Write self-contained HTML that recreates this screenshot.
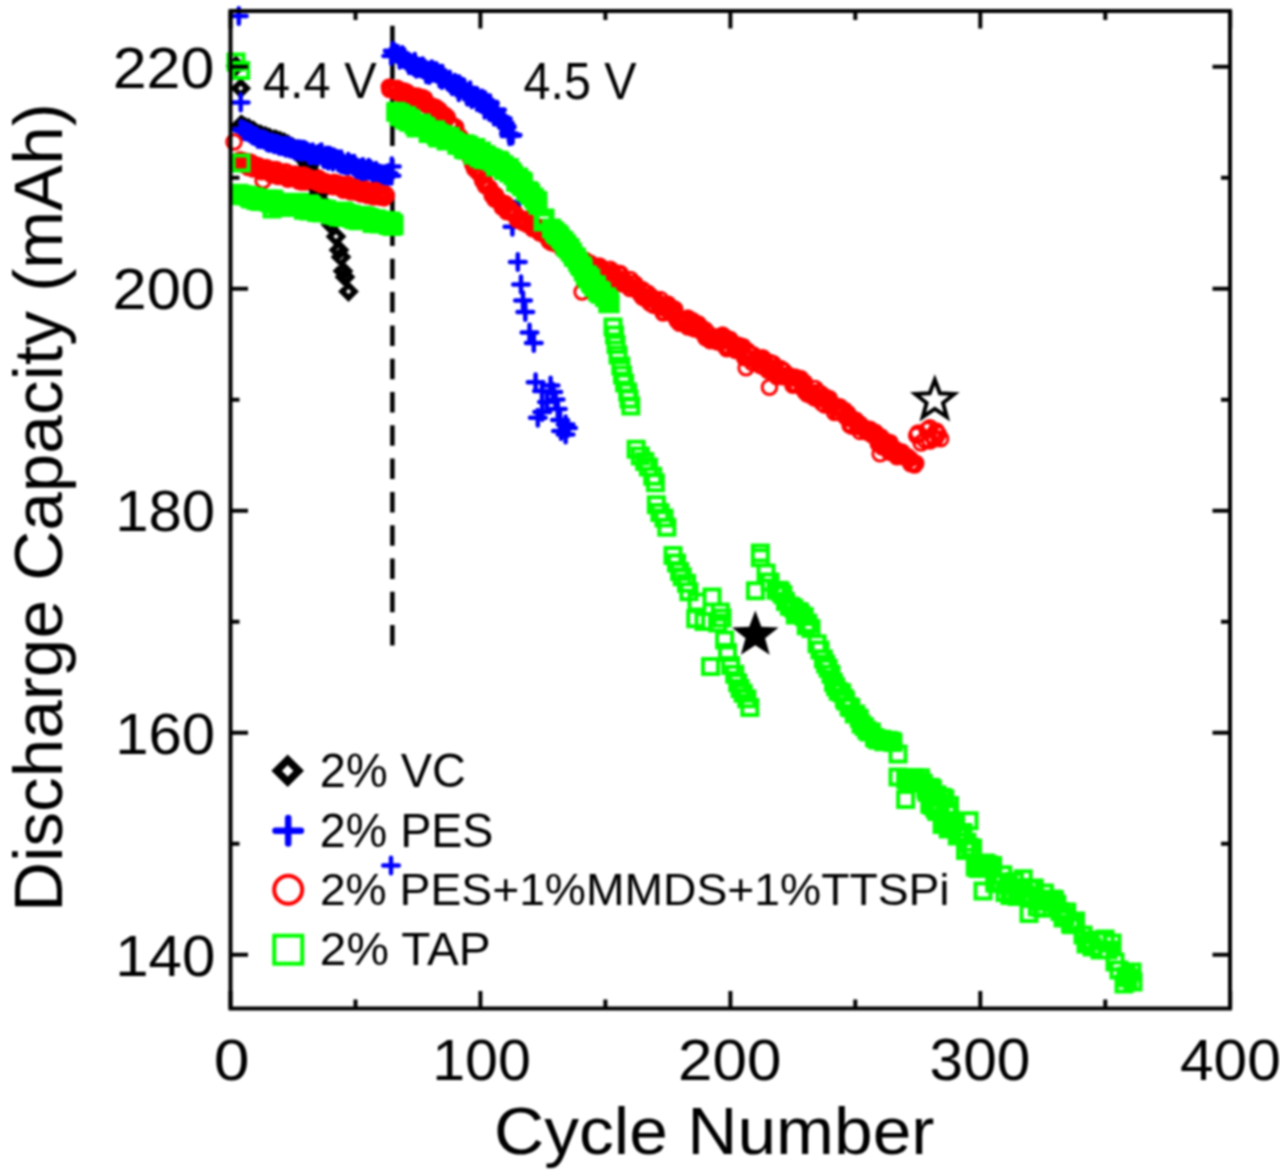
<!DOCTYPE html>
<html><head><meta charset="utf-8"><style>html,body{margin:0;padding:0;background:#fff;overflow:hidden}svg{display:block;filter:blur(1px)}</style></head>
<body><svg width="1280" height="1170" viewBox="0 0 1280 1170" font-family="Liberation Sans, sans-serif">
<rect width="1280" height="1170" fill="#fff"/>
<path d="M392.4,25.7V646" stroke="#000" stroke-width="4.5" stroke-dasharray="20.5 12.8" fill="none"/>
<path d="M236.0,59.5l6.5,6.5l-6.5,6.5l-6.5,-6.5zM240.7,81.8l6.5,6.5l-6.5,6.5l-6.5,-6.5zM240.9,118.6l6.5,6.5l-6.5,6.5l-6.5,-6.5zM241.7,118.4l6.5,6.5l-6.5,6.5l-6.5,-6.5zM243.5,120.0l6.5,6.5l-6.5,6.5l-6.5,-6.5zM243.0,119.9l6.5,6.5l-6.5,6.5l-6.5,-6.5zM246.2,121.8l6.5,6.5l-6.5,6.5l-6.5,-6.5zM245.4,120.8l6.5,6.5l-6.5,6.5l-6.5,-6.5zM247.8,123.1l6.5,6.5l-6.5,6.5l-6.5,-6.5zM248.8,121.6l6.5,6.5l-6.5,6.5l-6.5,-6.5zM251.8,124.8l6.5,6.5l-6.5,6.5l-6.5,-6.5zM251.2,124.1l6.5,6.5l-6.5,6.5l-6.5,-6.5zM253.0,124.2l6.5,6.5l-6.5,6.5l-6.5,-6.5zM253.5,124.3l6.5,6.5l-6.5,6.5l-6.5,-6.5zM255.5,126.0l6.5,6.5l-6.5,6.5l-6.5,-6.5zM255.2,126.4l6.5,6.5l-6.5,6.5l-6.5,-6.5zM258.4,128.2l6.5,6.5l-6.5,6.5l-6.5,-6.5zM258.5,127.8l6.5,6.5l-6.5,6.5l-6.5,-6.5zM261.0,128.9l6.5,6.5l-6.5,6.5l-6.5,-6.5zM260.9,128.1l6.5,6.5l-6.5,6.5l-6.5,-6.5zM264.3,130.6l6.5,6.5l-6.5,6.5l-6.5,-6.5zM264.0,130.0l6.5,6.5l-6.5,6.5l-6.5,-6.5zM265.7,130.1l6.5,6.5l-6.5,6.5l-6.5,-6.5zM265.7,129.8l6.5,6.5l-6.5,6.5l-6.5,-6.5zM268.9,131.5l6.5,6.5l-6.5,6.5l-6.5,-6.5zM269.1,131.4l6.5,6.5l-6.5,6.5l-6.5,-6.5zM271.7,133.1l6.5,6.5l-6.5,6.5l-6.5,-6.5zM270.2,131.8l6.5,6.5l-6.5,6.5l-6.5,-6.5zM274.2,133.1l6.5,6.5l-6.5,6.5l-6.5,-6.5zM274.3,133.0l6.5,6.5l-6.5,6.5l-6.5,-6.5zM275.3,134.2l6.5,6.5l-6.5,6.5l-6.5,-6.5zM276.4,133.5l6.5,6.5l-6.5,6.5l-6.5,-6.5zM277.8,134.4l6.5,6.5l-6.5,6.5l-6.5,-6.5zM279.2,135.2l6.5,6.5l-6.5,6.5l-6.5,-6.5zM280.4,135.0l6.5,6.5l-6.5,6.5l-6.5,-6.5zM280.4,134.6l6.5,6.5l-6.5,6.5l-6.5,-6.5zM284.0,135.8l6.5,6.5l-6.5,6.5l-6.5,-6.5zM283.6,136.4l6.5,6.5l-6.5,6.5l-6.5,-6.5zM285.5,137.9l6.5,6.5l-6.5,6.5l-6.5,-6.5zM285.4,137.7l6.5,6.5l-6.5,6.5l-6.5,-6.5zM287.9,138.3l6.5,6.5l-6.5,6.5l-6.5,-6.5zM288.0,138.0l6.5,6.5l-6.5,6.5l-6.5,-6.5zM291.8,140.4l6.5,6.5l-6.5,6.5l-6.5,-6.5zM290.7,140.5l6.5,6.5l-6.5,6.5l-6.5,-6.5zM293.0,141.4l6.5,6.5l-6.5,6.5l-6.5,-6.5zM294.1,141.9l6.5,6.5l-6.5,6.5l-6.5,-6.5zM295.4,144.5l6.5,6.5l-6.5,6.5l-6.5,-6.5zM295.5,143.0l6.5,6.5l-6.5,6.5l-6.5,-6.5zM298.9,145.0l6.5,6.5l-6.5,6.5l-6.5,-6.5zM298.2,144.5l6.5,6.5l-6.5,6.5l-6.5,-6.5zM300.3,147.9l6.5,6.5l-6.5,6.5l-6.5,-6.5zM300.6,147.9l6.5,6.5l-6.5,6.5l-6.5,-6.5zM303.3,150.6l6.5,6.5l-6.5,6.5l-6.5,-6.5zM304.2,150.7l6.5,6.5l-6.5,6.5l-6.5,-6.5zM306.1,155.0l6.5,6.5l-6.5,6.5l-6.5,-6.5zM305.5,153.6l6.5,6.5l-6.5,6.5l-6.5,-6.5zM309.2,159.4l6.5,6.5l-6.5,6.5l-6.5,-6.5zM308.1,158.2l6.5,6.5l-6.5,6.5l-6.5,-6.5zM311.4,165.4l6.5,6.5l-6.5,6.5l-6.5,-6.5zM310.5,165.4l6.5,6.5l-6.5,6.5l-6.5,-6.5zM314.1,172.2l6.5,6.5l-6.5,6.5l-6.5,-6.5zM313.4,171.2l6.5,6.5l-6.5,6.5l-6.5,-6.5zM315.3,180.6l6.5,6.5l-6.5,6.5l-6.5,-6.5zM315.6,180.1l6.5,6.5l-6.5,6.5l-6.5,-6.5zM318.1,188.3l6.5,6.5l-6.5,6.5l-6.5,-6.5zM318.7,187.3l6.5,6.5l-6.5,6.5l-6.5,-6.5zM320.5,195.3l6.5,6.5l-6.5,6.5l-6.5,-6.5zM320.3,194.3l6.5,6.5l-6.5,6.5l-6.5,-6.5zM323.6,201.4l6.5,6.5l-6.5,6.5l-6.5,-6.5zM323.7,200.2l6.5,6.5l-6.5,6.5l-6.5,-6.5zM326.7,205.9l6.5,6.5l-6.5,6.5l-6.5,-6.5zM325.2,206.0l6.5,6.5l-6.5,6.5l-6.5,-6.5zM328.4,211.0l6.5,6.5l-6.5,6.5l-6.5,-6.5zM328.0,211.7l6.5,6.5l-6.5,6.5l-6.5,-6.5zM331.1,216.6l6.5,6.5l-6.5,6.5l-6.5,-6.5zM330.8,218.1l6.5,6.5l-6.5,6.5l-6.5,-6.5zM336.0,230.0l6.5,6.5l-6.5,6.5l-6.5,-6.5zM339.0,243.5l6.5,6.5l-6.5,6.5l-6.5,-6.5zM341.0,250.5l6.5,6.5l-6.5,6.5l-6.5,-6.5zM343.0,264.5l6.5,6.5l-6.5,6.5l-6.5,-6.5zM345.0,270.5l6.5,6.5l-6.5,6.5l-6.5,-6.5zM348.5,285.0l6.5,6.5l-6.5,6.5l-6.5,-6.5z" fill="none" stroke="#000" stroke-width="5.5"/>
<path d="M231.0,16.0h15.6M238.8,8.2v15.6M232.9,102.4h15.6M240.7,94.6v15.6M383.2,865.5h15.6M391.0,857.7v15.6M232.7,129.3h15.6M240.5,121.5v15.6M233.4,129.0h15.6M241.2,121.2v15.6M235.2,130.8h15.6M243.0,123.0v15.6M236.2,130.4h15.6M244.0,122.6v15.6M238.2,131.2h15.6M246.0,123.4v15.6M237.4,131.4h15.6M245.2,123.6v15.6M240.8,132.2h15.6M248.6,124.4v15.6M241.2,132.5h15.6M249.0,124.7v15.6M242.8,133.5h15.6M250.6,125.7v15.6M244.0,134.8h15.6M251.8,127.0v15.6M246.3,135.9h15.6M254.1,128.1v15.6M245.0,135.3h15.6M252.8,127.5v15.6M248.2,136.2h15.6M256.0,128.4v15.6M248.9,136.7h15.6M256.7,128.9v15.6M250.1,138.7h15.6M257.9,130.9v15.6M250.1,138.9h15.6M257.9,131.1v15.6M253.1,139.2h15.6M260.9,131.4v15.6M252.9,139.1h15.6M260.7,131.3v15.6M255.2,139.2h15.6M263.0,131.4v15.6M256.3,139.6h15.6M264.1,131.8v15.6M258.6,140.6h15.6M266.4,132.8v15.6M259.0,142.0h15.6M266.8,134.2v15.6M261.1,142.7h15.6M268.9,134.9v15.6M260.8,142.6h15.6M268.6,134.8v15.6M262.6,142.8h15.6M270.4,135.0v15.6M263.7,142.2h15.6M271.5,134.4v15.6M266.4,144.3h15.6M274.2,136.5v15.6M265.6,143.2h15.6M273.4,135.4v15.6M268.1,143.9h15.6M275.9,136.1v15.6M269.0,143.9h15.6M276.8,136.1v15.6M269.9,144.0h15.6M277.7,136.2v15.6M271.0,145.8h15.6M278.8,138.0v15.6M273.2,145.5h15.6M281.0,137.7v15.6M273.3,146.0h15.6M281.1,138.2v15.6M275.3,146.3h15.6M283.1,138.5v15.6M275.8,146.3h15.6M283.6,138.5v15.6M277.7,145.8h15.6M285.5,138.0v15.6M278.0,147.7h15.6M285.8,139.9v15.6M280.5,147.4h15.6M288.3,139.6v15.6M280.4,146.0h15.6M288.2,138.2v15.6M282.5,148.8h15.6M290.3,141.0v15.6M283.6,147.4h15.6M291.4,139.6v15.6M286.0,149.1h15.6M293.8,141.3v15.6M286.3,150.0h15.6M294.1,142.2v15.6M288.1,151.0h15.6M295.9,143.2v15.6M288.9,149.6h15.6M296.7,141.8v15.6M291.3,150.0h15.6M299.1,142.2v15.6M290.5,149.1h15.6M298.3,141.3v15.6M293.8,149.5h15.6M301.6,141.7v15.6M292.5,151.9h15.6M300.3,144.1v15.6M296.1,151.5h15.6M303.9,143.7v15.6M296.2,149.8h15.6M304.0,142.0v15.6M297.8,151.3h15.6M305.6,143.5v15.6M298.1,150.8h15.6M305.9,143.0v15.6M300.0,152.0h15.6M307.8,144.2v15.6M301.3,154.9h15.6M309.1,147.1v15.6M303.6,153.1h15.6M311.4,145.3v15.6M302.8,155.4h15.6M310.6,147.6v15.6M305.7,154.9h15.6M313.5,147.1v15.6M304.9,152.2h15.6M312.7,144.4v15.6M308.7,155.8h15.6M316.5,148.0v15.6M308.8,154.8h15.6M316.6,147.0v15.6M310.6,155.2h15.6M318.4,147.4v15.6M311.3,153.6h15.6M319.1,145.8v15.6M313.3,154.0h15.6M321.1,146.2v15.6M313.6,152.4h15.6M321.4,144.6v15.6M316.0,158.9h15.6M323.8,151.1v15.6M314.9,156.7h15.6M322.7,148.9v15.6M318.4,159.1h15.6M326.2,151.3v15.6M318.3,155.5h15.6M326.1,147.7v15.6M320.5,160.6h15.6M328.3,152.8v15.6M321.3,155.6h15.6M329.1,147.8v15.6M322.6,156.2h15.6M330.4,148.4v15.6M322.4,158.3h15.6M330.2,150.5v15.6M325.1,161.7h15.6M332.9,153.9v15.6M325.9,157.3h15.6M333.7,149.5v15.6M328.3,159.3h15.6M336.1,151.5v15.6M328.2,158.7h15.6M336.0,150.9v15.6M330.2,159.3h15.6M338.0,151.5v15.6M330.5,162.4h15.6M338.3,154.6v15.6M333.3,159.3h15.6M341.1,151.5v15.6M333.5,164.2h15.6M341.3,156.4v15.6M336.1,164.6h15.6M343.9,156.8v15.6M334.9,162.6h15.6M342.7,154.8v15.6M337.5,165.3h15.6M345.3,157.5v15.6M337.7,164.9h15.6M345.5,157.1v15.6M340.3,165.7h15.6M348.1,157.9v15.6M340.4,161.8h15.6M348.2,154.0v15.6M343.0,164.2h15.6M350.8,156.4v15.6M343.8,164.1h15.6M351.6,156.3v15.6M345.7,166.5h15.6M353.5,158.7v15.6M346.4,163.8h15.6M354.2,156.0v15.6M348.4,167.0h15.6M356.2,159.2v15.6M348.6,169.8h15.6M356.4,162.0v15.6M350.4,169.0h15.6M358.2,161.2v15.6M350.7,168.2h15.6M358.5,160.4v15.6M352.5,170.6h15.6M360.3,162.8v15.6M354.0,167.8h15.6M361.8,160.0v15.6M355.4,172.5h15.6M363.2,164.7v15.6M355.1,167.0h15.6M362.9,159.2v15.6M357.5,172.2h15.6M365.3,164.4v15.6M358.6,169.9h15.6M366.4,162.1v15.6M360.9,167.8h15.6M368.7,160.0v15.6M360.9,170.5h15.6M368.7,162.7v15.6M363.2,170.8h15.6M371.0,163.0v15.6M363.0,169.6h15.6M370.8,161.8v15.6M365.0,171.7h15.6M372.8,163.9v15.6M365.3,173.6h15.6M373.1,165.8v15.6M368.7,174.4h15.6M376.5,166.6v15.6M368.1,170.8h15.6M375.9,163.0v15.6M370.5,173.3h15.6M378.3,165.5v15.6M370.9,176.9h15.6M378.7,169.1v15.6M372.5,173.8h15.6M380.3,166.0v15.6M373.2,175.7h15.6M381.0,167.9v15.6M376.3,175.7h15.6M384.1,167.9v15.6M375.9,175.5h15.6M383.7,167.7v15.6M378.5,175.8h15.6M386.3,168.0v15.6M378.5,174.3h15.6M386.3,166.5v15.6M380.3,175.9h15.6M388.1,168.1v15.6M380.5,173.0h15.6M388.3,165.2v15.6M383.7,175.8h15.6M391.5,168.0v15.6M384.0,166.4h15.6M391.8,158.6v15.6M384.9,50.8h15.6M392.7,43.0v15.6M383.4,56.0h15.6M391.2,48.2v15.6M386.2,51.9h15.6M394.0,44.1v15.6M386.9,53.3h15.6M394.7,45.5v15.6M389.8,53.8h15.6M397.6,46.0v15.6M389.9,54.4h15.6M397.7,46.6v15.6M391.9,59.6h15.6M399.7,51.8v15.6M392.0,59.5h15.6M399.8,51.7v15.6M394.5,55.0h15.6M402.3,47.2v15.6M394.8,58.6h15.6M402.6,50.8v15.6M396.4,57.1h15.6M404.2,49.3v15.6M397.3,59.8h15.6M405.1,52.0v15.6M399.9,62.4h15.6M407.7,54.6v15.6M399.9,61.0h15.6M407.7,53.2v15.6M402.0,62.6h15.6M409.8,54.8v15.6M401.3,65.1h15.6M409.1,57.3v15.6M403.9,65.1h15.6M411.7,57.3v15.6M404.9,64.1h15.6M412.7,56.3v15.6M406.1,66.7h15.6M413.9,58.9v15.6M407.0,61.9h15.6M414.8,54.1v15.6M408.5,65.7h15.6M416.3,57.9v15.6M408.5,68.8h15.6M416.3,61.0v15.6M411.7,66.9h15.6M419.5,59.1v15.6M411.6,68.0h15.6M419.4,60.2v15.6M414.9,66.4h15.6M422.7,58.6v15.6M414.0,68.6h15.6M421.8,60.8v15.6M416.4,69.9h15.6M424.2,62.1v15.6M416.8,68.6h15.6M424.6,60.8v15.6M419.5,70.5h15.6M427.3,62.7v15.6M418.5,74.2h15.6M426.3,66.4v15.6M421.5,70.9h15.6M429.3,63.1v15.6M421.5,74.9h15.6M429.3,67.1v15.6M424.9,72.7h15.6M432.7,64.9v15.6M424.0,69.4h15.6M431.8,61.6v15.6M427.3,71.1h15.6M435.1,63.3v15.6M426.8,72.6h15.6M434.6,64.8v15.6M428.9,73.8h15.6M436.7,66.0v15.6M428.7,71.2h15.6M436.5,63.4v15.6M431.8,78.5h15.6M439.6,70.7v15.6M431.9,73.7h15.6M439.7,65.9v15.6M434.5,73.7h15.6M442.3,65.9v15.6M434.1,79.9h15.6M441.9,72.1v15.6M437.4,78.1h15.6M445.2,70.3v15.6M437.3,78.4h15.6M445.1,70.6v15.6M439.2,80.3h15.6M447.0,72.5v15.6M440.0,81.5h15.6M447.8,73.7v15.6M441.7,82.6h15.6M449.5,74.8v15.6M441.9,79.6h15.6M449.7,71.8v15.6M444.7,85.1h15.6M452.5,77.3v15.6M444.4,86.1h15.6M452.2,78.3v15.6M445.9,84.3h15.6M453.7,76.5v15.6M446.9,82.9h15.6M454.7,75.1v15.6M448.7,87.7h15.6M456.5,79.9v15.6M449.1,84.0h15.6M456.9,76.2v15.6M451.0,92.1h15.6M458.8,84.3v15.6M451.5,84.4h15.6M459.3,76.6v15.6M453.7,87.4h15.6M461.5,79.6v15.6M454.8,86.7h15.6M462.6,78.9v15.6M456.3,87.6h15.6M464.1,79.8v15.6M456.7,88.7h15.6M464.5,80.9v15.6M459.0,95.6h15.6M466.8,87.8v15.6M459.9,96.6h15.6M467.7,88.8v15.6M461.0,93.8h15.6M468.8,86.0v15.6M462.3,90.3h15.6M470.1,82.5v15.6M463.7,96.6h15.6M471.5,88.8v15.6M464.0,99.2h15.6M471.8,91.4v15.6M467.0,98.0h15.6M474.8,90.2v15.6M466.3,95.6h15.6M474.1,87.8v15.6M468.8,95.7h15.6M476.6,87.9v15.6M469.5,96.6h15.6M477.3,88.8v15.6M472.3,103.1h15.6M480.1,95.3v15.6M471.0,101.7h15.6M478.8,93.9v15.6M474.4,98.7h15.6M482.2,90.9v15.6M474.2,98.6h15.6M482.0,90.8v15.6M477.1,100.0h15.6M484.9,92.2v15.6M476.9,109.8h15.6M484.7,102.0v15.6M479.8,103.9h15.6M487.6,96.1v15.6M479.3,102.9h15.6M487.1,95.1v15.6M481.4,111.8h15.6M489.2,104.0v15.6M482.2,103.2h15.6M490.0,95.4v15.6M484.0,111.2h15.6M491.8,103.4v15.6M483.7,112.8h15.6M491.5,105.0v15.6M487.3,111.9h15.6M495.1,104.1v15.6M486.5,114.9h15.6M494.3,107.1v15.6M489.2,109.9h15.6M497.0,102.1v15.6M488.8,109.6h15.6M496.6,101.8v15.6M492.2,117.1h15.6M500.0,109.3v15.6M492.0,120.0h15.6M499.8,112.2v15.6M495.0,118.5h15.6M502.8,110.7v15.6M494.0,124.2h15.6M501.8,116.4v15.6M497.1,124.2h15.6M504.9,116.4v15.6M496.9,122.8h15.6M504.7,115.0v15.6M498.7,126.0h15.6M506.5,118.2v15.6M499.0,127.3h15.6M506.8,119.5v15.6M501.7,136.1h15.6M509.5,128.3v15.6M501.1,133.5h15.6M508.9,125.7v15.6M504.8,135.0h15.6M512.6,127.2v15.6M504.2,135.8h15.6M512.0,128.0v15.6M508.2,180.0h15.6M516.0,172.2v15.6M511.2,202.0h15.6M519.0,194.2v15.6M504.6,226.7h15.6M512.4,218.9v15.6M510.0,262.0h15.6M517.8,254.2v15.6M513.2,284.4h15.6M521.0,276.6v15.6M515.2,300.4h15.6M523.0,292.6v15.6M517.5,312.0h15.6M525.3,304.2v15.6M521.7,332.5h15.6M529.5,324.7v15.6M526.0,343.0h15.6M533.8,335.2v15.6M527.8,382.2h15.6M535.6,374.4v15.6M542.8,385.6h15.6M550.6,377.8v15.6M534.2,391.0h15.6M542.0,383.2v15.6M545.5,392.0h15.6M553.3,384.2v15.6M547.8,399.4h15.6M555.6,391.6v15.6M550.0,409.0h15.6M557.8,401.2v15.6M534.4,412.0h15.6M542.2,404.2v15.6M530.0,417.8h15.6M537.8,410.0v15.6M552.2,420.0h15.6M560.0,412.2v15.6M557.8,424.4h15.6M565.6,416.6v15.6M557.8,434.4h15.6M565.6,426.6v15.6M553.2,431.0h15.6M561.0,423.2v15.6M560.2,428.0h15.6M568.0,420.2v15.6M539.2,402.0h15.6M547.0,394.2v15.6" fill="none" stroke="#00f" stroke-width="4.5" stroke-linecap="round"/>
<path d="M226.8,142.0a7.25,7.25 0 1,0 14.5,0a7.25,7.25 0 1,0 -14.5,0M255.8,180.5a7.25,7.25 0 1,0 14.5,0a7.25,7.25 0 1,0 -14.5,0M233.0,159.7a7.25,7.25 0 1,0 14.5,0a7.25,7.25 0 1,0 -14.5,0M233.6,163.1a7.25,7.25 0 1,0 14.5,0a7.25,7.25 0 1,0 -14.5,0M235.7,160.4a7.25,7.25 0 1,0 14.5,0a7.25,7.25 0 1,0 -14.5,0M235.8,164.4a7.25,7.25 0 1,0 14.5,0a7.25,7.25 0 1,0 -14.5,0M238.2,165.1a7.25,7.25 0 1,0 14.5,0a7.25,7.25 0 1,0 -14.5,0M239.0,161.3a7.25,7.25 0 1,0 14.5,0a7.25,7.25 0 1,0 -14.5,0M241.3,164.0a7.25,7.25 0 1,0 14.5,0a7.25,7.25 0 1,0 -14.5,0M241.1,167.6a7.25,7.25 0 1,0 14.5,0a7.25,7.25 0 1,0 -14.5,0M243.1,161.9a7.25,7.25 0 1,0 14.5,0a7.25,7.25 0 1,0 -14.5,0M244.5,164.5a7.25,7.25 0 1,0 14.5,0a7.25,7.25 0 1,0 -14.5,0M245.8,164.8a7.25,7.25 0 1,0 14.5,0a7.25,7.25 0 1,0 -14.5,0M246.0,169.0a7.25,7.25 0 1,0 14.5,0a7.25,7.25 0 1,0 -14.5,0M248.3,164.7a7.25,7.25 0 1,0 14.5,0a7.25,7.25 0 1,0 -14.5,0M248.9,167.0a7.25,7.25 0 1,0 14.5,0a7.25,7.25 0 1,0 -14.5,0M252.0,169.9a7.25,7.25 0 1,0 14.5,0a7.25,7.25 0 1,0 -14.5,0M251.0,165.4a7.25,7.25 0 1,0 14.5,0a7.25,7.25 0 1,0 -14.5,0M254.3,171.8a7.25,7.25 0 1,0 14.5,0a7.25,7.25 0 1,0 -14.5,0M253.0,170.0a7.25,7.25 0 1,0 14.5,0a7.25,7.25 0 1,0 -14.5,0M256.8,170.2a7.25,7.25 0 1,0 14.5,0a7.25,7.25 0 1,0 -14.5,0M255.8,171.2a7.25,7.25 0 1,0 14.5,0a7.25,7.25 0 1,0 -14.5,0M259.1,167.5a7.25,7.25 0 1,0 14.5,0a7.25,7.25 0 1,0 -14.5,0M259.0,167.7a7.25,7.25 0 1,0 14.5,0a7.25,7.25 0 1,0 -14.5,0M260.5,169.3a7.25,7.25 0 1,0 14.5,0a7.25,7.25 0 1,0 -14.5,0M261.0,169.8a7.25,7.25 0 1,0 14.5,0a7.25,7.25 0 1,0 -14.5,0M264.0,174.0a7.25,7.25 0 1,0 14.5,0a7.25,7.25 0 1,0 -14.5,0M264.5,175.1a7.25,7.25 0 1,0 14.5,0a7.25,7.25 0 1,0 -14.5,0M267.0,174.4a7.25,7.25 0 1,0 14.5,0a7.25,7.25 0 1,0 -14.5,0M265.9,169.5a7.25,7.25 0 1,0 14.5,0a7.25,7.25 0 1,0 -14.5,0M268.9,173.0a7.25,7.25 0 1,0 14.5,0a7.25,7.25 0 1,0 -14.5,0M269.0,169.4a7.25,7.25 0 1,0 14.5,0a7.25,7.25 0 1,0 -14.5,0M270.8,176.6a7.25,7.25 0 1,0 14.5,0a7.25,7.25 0 1,0 -14.5,0M271.4,174.8a7.25,7.25 0 1,0 14.5,0a7.25,7.25 0 1,0 -14.5,0M273.1,172.9a7.25,7.25 0 1,0 14.5,0a7.25,7.25 0 1,0 -14.5,0M274.4,174.9a7.25,7.25 0 1,0 14.5,0a7.25,7.25 0 1,0 -14.5,0M277.0,171.9a7.25,7.25 0 1,0 14.5,0a7.25,7.25 0 1,0 -14.5,0M276.2,176.7a7.25,7.25 0 1,0 14.5,0a7.25,7.25 0 1,0 -14.5,0M278.7,177.2a7.25,7.25 0 1,0 14.5,0a7.25,7.25 0 1,0 -14.5,0M278.8,171.8a7.25,7.25 0 1,0 14.5,0a7.25,7.25 0 1,0 -14.5,0M280.6,179.3a7.25,7.25 0 1,0 14.5,0a7.25,7.25 0 1,0 -14.5,0M280.6,172.9a7.25,7.25 0 1,0 14.5,0a7.25,7.25 0 1,0 -14.5,0M283.5,177.6a7.25,7.25 0 1,0 14.5,0a7.25,7.25 0 1,0 -14.5,0M284.3,175.7a7.25,7.25 0 1,0 14.5,0a7.25,7.25 0 1,0 -14.5,0M286.2,178.8a7.25,7.25 0 1,0 14.5,0a7.25,7.25 0 1,0 -14.5,0M285.9,175.5a7.25,7.25 0 1,0 14.5,0a7.25,7.25 0 1,0 -14.5,0M288.9,178.1a7.25,7.25 0 1,0 14.5,0a7.25,7.25 0 1,0 -14.5,0M288.0,173.9a7.25,7.25 0 1,0 14.5,0a7.25,7.25 0 1,0 -14.5,0M290.7,179.4a7.25,7.25 0 1,0 14.5,0a7.25,7.25 0 1,0 -14.5,0M291.6,181.4a7.25,7.25 0 1,0 14.5,0a7.25,7.25 0 1,0 -14.5,0M294.2,176.2a7.25,7.25 0 1,0 14.5,0a7.25,7.25 0 1,0 -14.5,0M294.2,182.0a7.25,7.25 0 1,0 14.5,0a7.25,7.25 0 1,0 -14.5,0M296.0,174.8a7.25,7.25 0 1,0 14.5,0a7.25,7.25 0 1,0 -14.5,0M296.1,176.9a7.25,7.25 0 1,0 14.5,0a7.25,7.25 0 1,0 -14.5,0M298.2,175.5a7.25,7.25 0 1,0 14.5,0a7.25,7.25 0 1,0 -14.5,0M298.1,182.1a7.25,7.25 0 1,0 14.5,0a7.25,7.25 0 1,0 -14.5,0M300.5,180.4a7.25,7.25 0 1,0 14.5,0a7.25,7.25 0 1,0 -14.5,0M300.8,177.0a7.25,7.25 0 1,0 14.5,0a7.25,7.25 0 1,0 -14.5,0M304.3,178.2a7.25,7.25 0 1,0 14.5,0a7.25,7.25 0 1,0 -14.5,0M303.2,179.4a7.25,7.25 0 1,0 14.5,0a7.25,7.25 0 1,0 -14.5,0M306.6,180.3a7.25,7.25 0 1,0 14.5,0a7.25,7.25 0 1,0 -14.5,0M306.8,179.3a7.25,7.25 0 1,0 14.5,0a7.25,7.25 0 1,0 -14.5,0M308.8,182.2a7.25,7.25 0 1,0 14.5,0a7.25,7.25 0 1,0 -14.5,0M308.7,182.2a7.25,7.25 0 1,0 14.5,0a7.25,7.25 0 1,0 -14.5,0M311.2,177.9a7.25,7.25 0 1,0 14.5,0a7.25,7.25 0 1,0 -14.5,0M310.6,183.1a7.25,7.25 0 1,0 14.5,0a7.25,7.25 0 1,0 -14.5,0M314.1,184.8a7.25,7.25 0 1,0 14.5,0a7.25,7.25 0 1,0 -14.5,0M314.1,181.9a7.25,7.25 0 1,0 14.5,0a7.25,7.25 0 1,0 -14.5,0M315.7,184.7a7.25,7.25 0 1,0 14.5,0a7.25,7.25 0 1,0 -14.5,0M315.6,181.2a7.25,7.25 0 1,0 14.5,0a7.25,7.25 0 1,0 -14.5,0M318.2,181.5a7.25,7.25 0 1,0 14.5,0a7.25,7.25 0 1,0 -14.5,0M318.4,181.9a7.25,7.25 0 1,0 14.5,0a7.25,7.25 0 1,0 -14.5,0M321.6,183.4a7.25,7.25 0 1,0 14.5,0a7.25,7.25 0 1,0 -14.5,0M320.8,185.3a7.25,7.25 0 1,0 14.5,0a7.25,7.25 0 1,0 -14.5,0M324.1,186.3a7.25,7.25 0 1,0 14.5,0a7.25,7.25 0 1,0 -14.5,0M323.0,184.6a7.25,7.25 0 1,0 14.5,0a7.25,7.25 0 1,0 -14.5,0M326.9,182.3a7.25,7.25 0 1,0 14.5,0a7.25,7.25 0 1,0 -14.5,0M325.8,186.8a7.25,7.25 0 1,0 14.5,0a7.25,7.25 0 1,0 -14.5,0M328.5,184.1a7.25,7.25 0 1,0 14.5,0a7.25,7.25 0 1,0 -14.5,0M329.3,183.9a7.25,7.25 0 1,0 14.5,0a7.25,7.25 0 1,0 -14.5,0M330.8,183.2a7.25,7.25 0 1,0 14.5,0a7.25,7.25 0 1,0 -14.5,0M331.0,187.1a7.25,7.25 0 1,0 14.5,0a7.25,7.25 0 1,0 -14.5,0M333.5,188.2a7.25,7.25 0 1,0 14.5,0a7.25,7.25 0 1,0 -14.5,0M333.1,184.1a7.25,7.25 0 1,0 14.5,0a7.25,7.25 0 1,0 -14.5,0M336.4,186.5a7.25,7.25 0 1,0 14.5,0a7.25,7.25 0 1,0 -14.5,0M336.2,190.2a7.25,7.25 0 1,0 14.5,0a7.25,7.25 0 1,0 -14.5,0M338.4,184.7a7.25,7.25 0 1,0 14.5,0a7.25,7.25 0 1,0 -14.5,0M338.0,187.2a7.25,7.25 0 1,0 14.5,0a7.25,7.25 0 1,0 -14.5,0M340.9,187.7a7.25,7.25 0 1,0 14.5,0a7.25,7.25 0 1,0 -14.5,0M340.5,183.9a7.25,7.25 0 1,0 14.5,0a7.25,7.25 0 1,0 -14.5,0M343.6,190.6a7.25,7.25 0 1,0 14.5,0a7.25,7.25 0 1,0 -14.5,0M343.4,191.8a7.25,7.25 0 1,0 14.5,0a7.25,7.25 0 1,0 -14.5,0M346.4,188.2a7.25,7.25 0 1,0 14.5,0a7.25,7.25 0 1,0 -14.5,0M346.7,186.9a7.25,7.25 0 1,0 14.5,0a7.25,7.25 0 1,0 -14.5,0M348.9,192.2a7.25,7.25 0 1,0 14.5,0a7.25,7.25 0 1,0 -14.5,0M348.8,188.0a7.25,7.25 0 1,0 14.5,0a7.25,7.25 0 1,0 -14.5,0M350.6,190.6a7.25,7.25 0 1,0 14.5,0a7.25,7.25 0 1,0 -14.5,0M350.8,188.9a7.25,7.25 0 1,0 14.5,0a7.25,7.25 0 1,0 -14.5,0M353.8,194.0a7.25,7.25 0 1,0 14.5,0a7.25,7.25 0 1,0 -14.5,0M354.0,190.6a7.25,7.25 0 1,0 14.5,0a7.25,7.25 0 1,0 -14.5,0M356.8,189.4a7.25,7.25 0 1,0 14.5,0a7.25,7.25 0 1,0 -14.5,0M356.1,192.4a7.25,7.25 0 1,0 14.5,0a7.25,7.25 0 1,0 -14.5,0M358.8,189.2a7.25,7.25 0 1,0 14.5,0a7.25,7.25 0 1,0 -14.5,0M358.6,194.0a7.25,7.25 0 1,0 14.5,0a7.25,7.25 0 1,0 -14.5,0M360.8,193.6a7.25,7.25 0 1,0 14.5,0a7.25,7.25 0 1,0 -14.5,0M360.5,195.5a7.25,7.25 0 1,0 14.5,0a7.25,7.25 0 1,0 -14.5,0M364.0,191.0a7.25,7.25 0 1,0 14.5,0a7.25,7.25 0 1,0 -14.5,0M364.5,194.8a7.25,7.25 0 1,0 14.5,0a7.25,7.25 0 1,0 -14.5,0M365.5,191.2a7.25,7.25 0 1,0 14.5,0a7.25,7.25 0 1,0 -14.5,0M366.2,196.9a7.25,7.25 0 1,0 14.5,0a7.25,7.25 0 1,0 -14.5,0M368.2,190.4a7.25,7.25 0 1,0 14.5,0a7.25,7.25 0 1,0 -14.5,0M368.5,190.4a7.25,7.25 0 1,0 14.5,0a7.25,7.25 0 1,0 -14.5,0M371.1,194.7a7.25,7.25 0 1,0 14.5,0a7.25,7.25 0 1,0 -14.5,0M371.2,191.9a7.25,7.25 0 1,0 14.5,0a7.25,7.25 0 1,0 -14.5,0M373.0,197.2a7.25,7.25 0 1,0 14.5,0a7.25,7.25 0 1,0 -14.5,0M373.7,195.0a7.25,7.25 0 1,0 14.5,0a7.25,7.25 0 1,0 -14.5,0M376.2,197.0a7.25,7.25 0 1,0 14.5,0a7.25,7.25 0 1,0 -14.5,0M376.9,197.9a7.25,7.25 0 1,0 14.5,0a7.25,7.25 0 1,0 -14.5,0M379.1,195.5a7.25,7.25 0 1,0 14.5,0a7.25,7.25 0 1,0 -14.5,0M378.2,194.0a7.25,7.25 0 1,0 14.5,0a7.25,7.25 0 1,0 -14.5,0M382.1,86.9a7.25,7.25 0 1,0 14.5,0a7.25,7.25 0 1,0 -14.5,0M382.4,89.6a7.25,7.25 0 1,0 14.5,0a7.25,7.25 0 1,0 -14.5,0M385.2,90.0a7.25,7.25 0 1,0 14.5,0a7.25,7.25 0 1,0 -14.5,0M384.6,89.0a7.25,7.25 0 1,0 14.5,0a7.25,7.25 0 1,0 -14.5,0M388.3,90.1a7.25,7.25 0 1,0 14.5,0a7.25,7.25 0 1,0 -14.5,0M388.5,91.9a7.25,7.25 0 1,0 14.5,0a7.25,7.25 0 1,0 -14.5,0M390.0,88.3a7.25,7.25 0 1,0 14.5,0a7.25,7.25 0 1,0 -14.5,0M390.7,88.9a7.25,7.25 0 1,0 14.5,0a7.25,7.25 0 1,0 -14.5,0M392.0,93.4a7.25,7.25 0 1,0 14.5,0a7.25,7.25 0 1,0 -14.5,0M393.3,94.0a7.25,7.25 0 1,0 14.5,0a7.25,7.25 0 1,0 -14.5,0M396.0,91.1a7.25,7.25 0 1,0 14.5,0a7.25,7.25 0 1,0 -14.5,0M394.6,90.7a7.25,7.25 0 1,0 14.5,0a7.25,7.25 0 1,0 -14.5,0M398.5,91.5a7.25,7.25 0 1,0 14.5,0a7.25,7.25 0 1,0 -14.5,0M397.2,91.0a7.25,7.25 0 1,0 14.5,0a7.25,7.25 0 1,0 -14.5,0M399.5,92.0a7.25,7.25 0 1,0 14.5,0a7.25,7.25 0 1,0 -14.5,0M400.0,92.8a7.25,7.25 0 1,0 14.5,0a7.25,7.25 0 1,0 -14.5,0M402.4,98.3a7.25,7.25 0 1,0 14.5,0a7.25,7.25 0 1,0 -14.5,0M402.2,97.6a7.25,7.25 0 1,0 14.5,0a7.25,7.25 0 1,0 -14.5,0M405.6,97.0a7.25,7.25 0 1,0 14.5,0a7.25,7.25 0 1,0 -14.5,0M405.4,98.3a7.25,7.25 0 1,0 14.5,0a7.25,7.25 0 1,0 -14.5,0M407.9,95.9a7.25,7.25 0 1,0 14.5,0a7.25,7.25 0 1,0 -14.5,0M407.5,96.0a7.25,7.25 0 1,0 14.5,0a7.25,7.25 0 1,0 -14.5,0M410.1,101.4a7.25,7.25 0 1,0 14.5,0a7.25,7.25 0 1,0 -14.5,0M410.1,95.9a7.25,7.25 0 1,0 14.5,0a7.25,7.25 0 1,0 -14.5,0M412.7,101.3a7.25,7.25 0 1,0 14.5,0a7.25,7.25 0 1,0 -14.5,0M412.7,100.6a7.25,7.25 0 1,0 14.5,0a7.25,7.25 0 1,0 -14.5,0M414.6,97.7a7.25,7.25 0 1,0 14.5,0a7.25,7.25 0 1,0 -14.5,0M415.5,97.6a7.25,7.25 0 1,0 14.5,0a7.25,7.25 0 1,0 -14.5,0M417.4,100.6a7.25,7.25 0 1,0 14.5,0a7.25,7.25 0 1,0 -14.5,0M417.3,98.5a7.25,7.25 0 1,0 14.5,0a7.25,7.25 0 1,0 -14.5,0M419.5,105.1a7.25,7.25 0 1,0 14.5,0a7.25,7.25 0 1,0 -14.5,0M420.6,105.1a7.25,7.25 0 1,0 14.5,0a7.25,7.25 0 1,0 -14.5,0M422.7,107.3a7.25,7.25 0 1,0 14.5,0a7.25,7.25 0 1,0 -14.5,0M423.3,105.3a7.25,7.25 0 1,0 14.5,0a7.25,7.25 0 1,0 -14.5,0M425.3,106.8a7.25,7.25 0 1,0 14.5,0a7.25,7.25 0 1,0 -14.5,0M424.8,106.0a7.25,7.25 0 1,0 14.5,0a7.25,7.25 0 1,0 -14.5,0M428.1,107.0a7.25,7.25 0 1,0 14.5,0a7.25,7.25 0 1,0 -14.5,0M428.3,108.9a7.25,7.25 0 1,0 14.5,0a7.25,7.25 0 1,0 -14.5,0M430.4,112.9a7.25,7.25 0 1,0 14.5,0a7.25,7.25 0 1,0 -14.5,0M430.5,108.8a7.25,7.25 0 1,0 14.5,0a7.25,7.25 0 1,0 -14.5,0M432.3,110.1a7.25,7.25 0 1,0 14.5,0a7.25,7.25 0 1,0 -14.5,0M432.0,115.9a7.25,7.25 0 1,0 14.5,0a7.25,7.25 0 1,0 -14.5,0M435.4,118.1a7.25,7.25 0 1,0 14.5,0a7.25,7.25 0 1,0 -14.5,0M435.7,114.2a7.25,7.25 0 1,0 14.5,0a7.25,7.25 0 1,0 -14.5,0M438.5,120.0a7.25,7.25 0 1,0 14.5,0a7.25,7.25 0 1,0 -14.5,0M437.7,114.9a7.25,7.25 0 1,0 14.5,0a7.25,7.25 0 1,0 -14.5,0M440.0,117.6a7.25,7.25 0 1,0 14.5,0a7.25,7.25 0 1,0 -14.5,0M440.0,117.1a7.25,7.25 0 1,0 14.5,0a7.25,7.25 0 1,0 -14.5,0M443.1,125.7a7.25,7.25 0 1,0 14.5,0a7.25,7.25 0 1,0 -14.5,0M442.3,124.5a7.25,7.25 0 1,0 14.5,0a7.25,7.25 0 1,0 -14.5,0M445.4,126.2a7.25,7.25 0 1,0 14.5,0a7.25,7.25 0 1,0 -14.5,0M445.9,125.6a7.25,7.25 0 1,0 14.5,0a7.25,7.25 0 1,0 -14.5,0M448.3,127.0a7.25,7.25 0 1,0 14.5,0a7.25,7.25 0 1,0 -14.5,0M448.5,127.9a7.25,7.25 0 1,0 14.5,0a7.25,7.25 0 1,0 -14.5,0M449.5,135.6a7.25,7.25 0 1,0 14.5,0a7.25,7.25 0 1,0 -14.5,0M450.6,134.3a7.25,7.25 0 1,0 14.5,0a7.25,7.25 0 1,0 -14.5,0M453.2,137.3a7.25,7.25 0 1,0 14.5,0a7.25,7.25 0 1,0 -14.5,0M452.1,136.9a7.25,7.25 0 1,0 14.5,0a7.25,7.25 0 1,0 -14.5,0M456.0,145.9a7.25,7.25 0 1,0 14.5,0a7.25,7.25 0 1,0 -14.5,0M454.8,142.7a7.25,7.25 0 1,0 14.5,0a7.25,7.25 0 1,0 -14.5,0M457.7,150.4a7.25,7.25 0 1,0 14.5,0a7.25,7.25 0 1,0 -14.5,0M457.0,150.0a7.25,7.25 0 1,0 14.5,0a7.25,7.25 0 1,0 -14.5,0M459.9,152.7a7.25,7.25 0 1,0 14.5,0a7.25,7.25 0 1,0 -14.5,0M459.7,149.9a7.25,7.25 0 1,0 14.5,0a7.25,7.25 0 1,0 -14.5,0M463.4,156.9a7.25,7.25 0 1,0 14.5,0a7.25,7.25 0 1,0 -14.5,0M463.5,159.1a7.25,7.25 0 1,0 14.5,0a7.25,7.25 0 1,0 -14.5,0M465.7,158.8a7.25,7.25 0 1,0 14.5,0a7.25,7.25 0 1,0 -14.5,0M465.4,164.3a7.25,7.25 0 1,0 14.5,0a7.25,7.25 0 1,0 -14.5,0M467.8,163.2a7.25,7.25 0 1,0 14.5,0a7.25,7.25 0 1,0 -14.5,0M467.2,168.7a7.25,7.25 0 1,0 14.5,0a7.25,7.25 0 1,0 -14.5,0M471.0,168.8a7.25,7.25 0 1,0 14.5,0a7.25,7.25 0 1,0 -14.5,0M470.0,171.6a7.25,7.25 0 1,0 14.5,0a7.25,7.25 0 1,0 -14.5,0M472.8,172.9a7.25,7.25 0 1,0 14.5,0a7.25,7.25 0 1,0 -14.5,0M473.5,175.5a7.25,7.25 0 1,0 14.5,0a7.25,7.25 0 1,0 -14.5,0M475.0,176.4a7.25,7.25 0 1,0 14.5,0a7.25,7.25 0 1,0 -14.5,0M475.3,180.8a7.25,7.25 0 1,0 14.5,0a7.25,7.25 0 1,0 -14.5,0M477.2,180.8a7.25,7.25 0 1,0 14.5,0a7.25,7.25 0 1,0 -14.5,0M478.1,185.8a7.25,7.25 0 1,0 14.5,0a7.25,7.25 0 1,0 -14.5,0M480.1,186.4a7.25,7.25 0 1,0 14.5,0a7.25,7.25 0 1,0 -14.5,0M480.5,186.7a7.25,7.25 0 1,0 14.5,0a7.25,7.25 0 1,0 -14.5,0M482.2,188.5a7.25,7.25 0 1,0 14.5,0a7.25,7.25 0 1,0 -14.5,0M482.3,188.0a7.25,7.25 0 1,0 14.5,0a7.25,7.25 0 1,0 -14.5,0M484.6,192.5a7.25,7.25 0 1,0 14.5,0a7.25,7.25 0 1,0 -14.5,0M484.8,195.2a7.25,7.25 0 1,0 14.5,0a7.25,7.25 0 1,0 -14.5,0M487.5,199.2a7.25,7.25 0 1,0 14.5,0a7.25,7.25 0 1,0 -14.5,0M488.2,195.0a7.25,7.25 0 1,0 14.5,0a7.25,7.25 0 1,0 -14.5,0M489.7,199.9a7.25,7.25 0 1,0 14.5,0a7.25,7.25 0 1,0 -14.5,0M490.2,199.7a7.25,7.25 0 1,0 14.5,0a7.25,7.25 0 1,0 -14.5,0M492.1,202.0a7.25,7.25 0 1,0 14.5,0a7.25,7.25 0 1,0 -14.5,0M493.2,201.5a7.25,7.25 0 1,0 14.5,0a7.25,7.25 0 1,0 -14.5,0M494.9,206.7a7.25,7.25 0 1,0 14.5,0a7.25,7.25 0 1,0 -14.5,0M494.9,207.2a7.25,7.25 0 1,0 14.5,0a7.25,7.25 0 1,0 -14.5,0M498.1,203.6a7.25,7.25 0 1,0 14.5,0a7.25,7.25 0 1,0 -14.5,0M497.7,204.5a7.25,7.25 0 1,0 14.5,0a7.25,7.25 0 1,0 -14.5,0M500.7,208.5a7.25,7.25 0 1,0 14.5,0a7.25,7.25 0 1,0 -14.5,0M499.6,211.7a7.25,7.25 0 1,0 14.5,0a7.25,7.25 0 1,0 -14.5,0M503.2,212.0a7.25,7.25 0 1,0 14.5,0a7.25,7.25 0 1,0 -14.5,0M502.9,208.8a7.25,7.25 0 1,0 14.5,0a7.25,7.25 0 1,0 -14.5,0M506.0,212.5a7.25,7.25 0 1,0 14.5,0a7.25,7.25 0 1,0 -14.5,0M505.3,213.6a7.25,7.25 0 1,0 14.5,0a7.25,7.25 0 1,0 -14.5,0M507.7,213.2a7.25,7.25 0 1,0 14.5,0a7.25,7.25 0 1,0 -14.5,0M508.4,216.0a7.25,7.25 0 1,0 14.5,0a7.25,7.25 0 1,0 -14.5,0M510.1,220.0a7.25,7.25 0 1,0 14.5,0a7.25,7.25 0 1,0 -14.5,0M510.8,219.2a7.25,7.25 0 1,0 14.5,0a7.25,7.25 0 1,0 -14.5,0M513.4,218.4a7.25,7.25 0 1,0 14.5,0a7.25,7.25 0 1,0 -14.5,0M512.1,218.4a7.25,7.25 0 1,0 14.5,0a7.25,7.25 0 1,0 -14.5,0M515.4,222.4a7.25,7.25 0 1,0 14.5,0a7.25,7.25 0 1,0 -14.5,0M515.6,221.5a7.25,7.25 0 1,0 14.5,0a7.25,7.25 0 1,0 -14.5,0M517.9,223.1a7.25,7.25 0 1,0 14.5,0a7.25,7.25 0 1,0 -14.5,0M517.9,219.2a7.25,7.25 0 1,0 14.5,0a7.25,7.25 0 1,0 -14.5,0M520.3,222.2a7.25,7.25 0 1,0 14.5,0a7.25,7.25 0 1,0 -14.5,0M519.6,224.2a7.25,7.25 0 1,0 14.5,0a7.25,7.25 0 1,0 -14.5,0M523.3,223.7a7.25,7.25 0 1,0 14.5,0a7.25,7.25 0 1,0 -14.5,0M523.0,225.8a7.25,7.25 0 1,0 14.5,0a7.25,7.25 0 1,0 -14.5,0M525.5,228.7a7.25,7.25 0 1,0 14.5,0a7.25,7.25 0 1,0 -14.5,0M525.6,223.9a7.25,7.25 0 1,0 14.5,0a7.25,7.25 0 1,0 -14.5,0M527.9,226.9a7.25,7.25 0 1,0 14.5,0a7.25,7.25 0 1,0 -14.5,0M527.6,228.9a7.25,7.25 0 1,0 14.5,0a7.25,7.25 0 1,0 -14.5,0M529.7,230.2a7.25,7.25 0 1,0 14.5,0a7.25,7.25 0 1,0 -14.5,0M531.0,226.9a7.25,7.25 0 1,0 14.5,0a7.25,7.25 0 1,0 -14.5,0M533.3,232.6a7.25,7.25 0 1,0 14.5,0a7.25,7.25 0 1,0 -14.5,0M532.6,233.0a7.25,7.25 0 1,0 14.5,0a7.25,7.25 0 1,0 -14.5,0M534.6,231.3a7.25,7.25 0 1,0 14.5,0a7.25,7.25 0 1,0 -14.5,0M536.0,234.1a7.25,7.25 0 1,0 14.5,0a7.25,7.25 0 1,0 -14.5,0M537.2,233.1a7.25,7.25 0 1,0 14.5,0a7.25,7.25 0 1,0 -14.5,0M537.7,235.6a7.25,7.25 0 1,0 14.5,0a7.25,7.25 0 1,0 -14.5,0M541.0,235.4a7.25,7.25 0 1,0 14.5,0a7.25,7.25 0 1,0 -14.5,0M540.5,236.9a7.25,7.25 0 1,0 14.5,0a7.25,7.25 0 1,0 -14.5,0M542.8,241.9a7.25,7.25 0 1,0 14.5,0a7.25,7.25 0 1,0 -14.5,0M542.1,241.2a7.25,7.25 0 1,0 14.5,0a7.25,7.25 0 1,0 -14.5,0M545.6,239.8a7.25,7.25 0 1,0 14.5,0a7.25,7.25 0 1,0 -14.5,0M544.6,242.7a7.25,7.25 0 1,0 14.5,0a7.25,7.25 0 1,0 -14.5,0M548.3,242.2a7.25,7.25 0 1,0 14.5,0a7.25,7.25 0 1,0 -14.5,0M547.2,243.5a7.25,7.25 0 1,0 14.5,0a7.25,7.25 0 1,0 -14.5,0M550.5,244.3a7.25,7.25 0 1,0 14.5,0a7.25,7.25 0 1,0 -14.5,0M550.1,242.7a7.25,7.25 0 1,0 14.5,0a7.25,7.25 0 1,0 -14.5,0M552.2,245.4a7.25,7.25 0 1,0 14.5,0a7.25,7.25 0 1,0 -14.5,0M553.2,244.8a7.25,7.25 0 1,0 14.5,0a7.25,7.25 0 1,0 -14.5,0M554.8,248.8a7.25,7.25 0 1,0 14.5,0a7.25,7.25 0 1,0 -14.5,0M554.8,247.5a7.25,7.25 0 1,0 14.5,0a7.25,7.25 0 1,0 -14.5,0M558.1,249.4a7.25,7.25 0 1,0 14.5,0a7.25,7.25 0 1,0 -14.5,0M557.8,248.5a7.25,7.25 0 1,0 14.5,0a7.25,7.25 0 1,0 -14.5,0M560.3,253.8a7.25,7.25 0 1,0 14.5,0a7.25,7.25 0 1,0 -14.5,0M560.2,250.6a7.25,7.25 0 1,0 14.5,0a7.25,7.25 0 1,0 -14.5,0M562.0,252.6a7.25,7.25 0 1,0 14.5,0a7.25,7.25 0 1,0 -14.5,0M562.6,251.5a7.25,7.25 0 1,0 14.5,0a7.25,7.25 0 1,0 -14.5,0M565.1,255.7a7.25,7.25 0 1,0 14.5,0a7.25,7.25 0 1,0 -14.5,0M564.6,256.7a7.25,7.25 0 1,0 14.5,0a7.25,7.25 0 1,0 -14.5,0M568.5,258.5a7.25,7.25 0 1,0 14.5,0a7.25,7.25 0 1,0 -14.5,0M567.7,259.4a7.25,7.25 0 1,0 14.5,0a7.25,7.25 0 1,0 -14.5,0M571.0,261.8a7.25,7.25 0 1,0 14.5,0a7.25,7.25 0 1,0 -14.5,0M571.0,260.5a7.25,7.25 0 1,0 14.5,0a7.25,7.25 0 1,0 -14.5,0M573.5,262.1a7.25,7.25 0 1,0 14.5,0a7.25,7.25 0 1,0 -14.5,0M572.5,257.6a7.25,7.25 0 1,0 14.5,0a7.25,7.25 0 1,0 -14.5,0M575.2,263.3a7.25,7.25 0 1,0 14.5,0a7.25,7.25 0 1,0 -14.5,0M574.9,260.7a7.25,7.25 0 1,0 14.5,0a7.25,7.25 0 1,0 -14.5,0M577.1,259.8a7.25,7.25 0 1,0 14.5,0a7.25,7.25 0 1,0 -14.5,0M577.4,265.9a7.25,7.25 0 1,0 14.5,0a7.25,7.25 0 1,0 -14.5,0M579.5,262.1a7.25,7.25 0 1,0 14.5,0a7.25,7.25 0 1,0 -14.5,0M580.1,268.5a7.25,7.25 0 1,0 14.5,0a7.25,7.25 0 1,0 -14.5,0M582.3,262.8a7.25,7.25 0 1,0 14.5,0a7.25,7.25 0 1,0 -14.5,0M582.0,265.2a7.25,7.25 0 1,0 14.5,0a7.25,7.25 0 1,0 -14.5,0M584.5,268.9a7.25,7.25 0 1,0 14.5,0a7.25,7.25 0 1,0 -14.5,0M584.5,265.0a7.25,7.25 0 1,0 14.5,0a7.25,7.25 0 1,0 -14.5,0M587.1,266.5a7.25,7.25 0 1,0 14.5,0a7.25,7.25 0 1,0 -14.5,0M587.1,265.6a7.25,7.25 0 1,0 14.5,0a7.25,7.25 0 1,0 -14.5,0M589.8,267.0a7.25,7.25 0 1,0 14.5,0a7.25,7.25 0 1,0 -14.5,0M590.5,268.2a7.25,7.25 0 1,0 14.5,0a7.25,7.25 0 1,0 -14.5,0M592.3,265.9a7.25,7.25 0 1,0 14.5,0a7.25,7.25 0 1,0 -14.5,0M593.3,273.3a7.25,7.25 0 1,0 14.5,0a7.25,7.25 0 1,0 -14.5,0M596.0,273.0a7.25,7.25 0 1,0 14.5,0a7.25,7.25 0 1,0 -14.5,0M595.1,269.5a7.25,7.25 0 1,0 14.5,0a7.25,7.25 0 1,0 -14.5,0M597.3,271.4a7.25,7.25 0 1,0 14.5,0a7.25,7.25 0 1,0 -14.5,0M597.6,276.1a7.25,7.25 0 1,0 14.5,0a7.25,7.25 0 1,0 -14.5,0M599.8,274.8a7.25,7.25 0 1,0 14.5,0a7.25,7.25 0 1,0 -14.5,0M600.6,274.4a7.25,7.25 0 1,0 14.5,0a7.25,7.25 0 1,0 -14.5,0M602.9,269.3a7.25,7.25 0 1,0 14.5,0a7.25,7.25 0 1,0 -14.5,0M602.2,274.0a7.25,7.25 0 1,0 14.5,0a7.25,7.25 0 1,0 -14.5,0M605.4,279.4a7.25,7.25 0 1,0 14.5,0a7.25,7.25 0 1,0 -14.5,0M605.7,271.9a7.25,7.25 0 1,0 14.5,0a7.25,7.25 0 1,0 -14.5,0M607.2,279.1a7.25,7.25 0 1,0 14.5,0a7.25,7.25 0 1,0 -14.5,0M607.0,280.5a7.25,7.25 0 1,0 14.5,0a7.25,7.25 0 1,0 -14.5,0M609.6,278.7a7.25,7.25 0 1,0 14.5,0a7.25,7.25 0 1,0 -14.5,0M610.8,273.2a7.25,7.25 0 1,0 14.5,0a7.25,7.25 0 1,0 -14.5,0M612.1,280.6a7.25,7.25 0 1,0 14.5,0a7.25,7.25 0 1,0 -14.5,0M613.1,273.6a7.25,7.25 0 1,0 14.5,0a7.25,7.25 0 1,0 -14.5,0M615.2,284.0a7.25,7.25 0 1,0 14.5,0a7.25,7.25 0 1,0 -14.5,0M615.7,279.3a7.25,7.25 0 1,0 14.5,0a7.25,7.25 0 1,0 -14.5,0M617.0,283.4a7.25,7.25 0 1,0 14.5,0a7.25,7.25 0 1,0 -14.5,0M617.8,281.1a7.25,7.25 0 1,0 14.5,0a7.25,7.25 0 1,0 -14.5,0M620.4,284.7a7.25,7.25 0 1,0 14.5,0a7.25,7.25 0 1,0 -14.5,0M620.2,284.2a7.25,7.25 0 1,0 14.5,0a7.25,7.25 0 1,0 -14.5,0M622.8,288.5a7.25,7.25 0 1,0 14.5,0a7.25,7.25 0 1,0 -14.5,0M623.2,279.5a7.25,7.25 0 1,0 14.5,0a7.25,7.25 0 1,0 -14.5,0M625.7,283.8a7.25,7.25 0 1,0 14.5,0a7.25,7.25 0 1,0 -14.5,0M625.1,283.5a7.25,7.25 0 1,0 14.5,0a7.25,7.25 0 1,0 -14.5,0M627.4,287.4a7.25,7.25 0 1,0 14.5,0a7.25,7.25 0 1,0 -14.5,0M627.7,283.8a7.25,7.25 0 1,0 14.5,0a7.25,7.25 0 1,0 -14.5,0M629.9,289.7a7.25,7.25 0 1,0 14.5,0a7.25,7.25 0 1,0 -14.5,0M630.1,290.6a7.25,7.25 0 1,0 14.5,0a7.25,7.25 0 1,0 -14.5,0M632.1,292.6a7.25,7.25 0 1,0 14.5,0a7.25,7.25 0 1,0 -14.5,0M633.4,294.7a7.25,7.25 0 1,0 14.5,0a7.25,7.25 0 1,0 -14.5,0M635.3,297.2a7.25,7.25 0 1,0 14.5,0a7.25,7.25 0 1,0 -14.5,0M635.1,289.6a7.25,7.25 0 1,0 14.5,0a7.25,7.25 0 1,0 -14.5,0M637.9,292.1a7.25,7.25 0 1,0 14.5,0a7.25,7.25 0 1,0 -14.5,0M637.4,298.4a7.25,7.25 0 1,0 14.5,0a7.25,7.25 0 1,0 -14.5,0M640.3,292.9a7.25,7.25 0 1,0 14.5,0a7.25,7.25 0 1,0 -14.5,0M639.8,299.6a7.25,7.25 0 1,0 14.5,0a7.25,7.25 0 1,0 -14.5,0M643.0,303.2a7.25,7.25 0 1,0 14.5,0a7.25,7.25 0 1,0 -14.5,0M643.1,295.8a7.25,7.25 0 1,0 14.5,0a7.25,7.25 0 1,0 -14.5,0M645.6,304.7a7.25,7.25 0 1,0 14.5,0a7.25,7.25 0 1,0 -14.5,0M645.9,305.0a7.25,7.25 0 1,0 14.5,0a7.25,7.25 0 1,0 -14.5,0M647.2,298.7a7.25,7.25 0 1,0 14.5,0a7.25,7.25 0 1,0 -14.5,0M647.2,305.5a7.25,7.25 0 1,0 14.5,0a7.25,7.25 0 1,0 -14.5,0M650.6,304.1a7.25,7.25 0 1,0 14.5,0a7.25,7.25 0 1,0 -14.5,0M649.8,302.3a7.25,7.25 0 1,0 14.5,0a7.25,7.25 0 1,0 -14.5,0M653.1,299.4a7.25,7.25 0 1,0 14.5,0a7.25,7.25 0 1,0 -14.5,0M653.4,307.4a7.25,7.25 0 1,0 14.5,0a7.25,7.25 0 1,0 -14.5,0M655.9,311.9a7.25,7.25 0 1,0 14.5,0a7.25,7.25 0 1,0 -14.5,0M655.3,304.2a7.25,7.25 0 1,0 14.5,0a7.25,7.25 0 1,0 -14.5,0M657.6,308.0a7.25,7.25 0 1,0 14.5,0a7.25,7.25 0 1,0 -14.5,0M657.9,305.4a7.25,7.25 0 1,0 14.5,0a7.25,7.25 0 1,0 -14.5,0M659.9,309.8a7.25,7.25 0 1,0 14.5,0a7.25,7.25 0 1,0 -14.5,0M660.6,303.9a7.25,7.25 0 1,0 14.5,0a7.25,7.25 0 1,0 -14.5,0M663.4,313.0a7.25,7.25 0 1,0 14.5,0a7.25,7.25 0 1,0 -14.5,0M662.8,311.9a7.25,7.25 0 1,0 14.5,0a7.25,7.25 0 1,0 -14.5,0M665.8,312.0a7.25,7.25 0 1,0 14.5,0a7.25,7.25 0 1,0 -14.5,0M665.0,307.9a7.25,7.25 0 1,0 14.5,0a7.25,7.25 0 1,0 -14.5,0M667.5,309.1a7.25,7.25 0 1,0 14.5,0a7.25,7.25 0 1,0 -14.5,0M667.4,316.1a7.25,7.25 0 1,0 14.5,0a7.25,7.25 0 1,0 -14.5,0M670.0,320.9a7.25,7.25 0 1,0 14.5,0a7.25,7.25 0 1,0 -14.5,0M670.2,320.0a7.25,7.25 0 1,0 14.5,0a7.25,7.25 0 1,0 -14.5,0M672.3,323.2a7.25,7.25 0 1,0 14.5,0a7.25,7.25 0 1,0 -14.5,0M673.3,322.4a7.25,7.25 0 1,0 14.5,0a7.25,7.25 0 1,0 -14.5,0M675.7,319.3a7.25,7.25 0 1,0 14.5,0a7.25,7.25 0 1,0 -14.5,0M674.7,323.2a7.25,7.25 0 1,0 14.5,0a7.25,7.25 0 1,0 -14.5,0M678.5,320.1a7.25,7.25 0 1,0 14.5,0a7.25,7.25 0 1,0 -14.5,0M678.2,322.1a7.25,7.25 0 1,0 14.5,0a7.25,7.25 0 1,0 -14.5,0M680.7,327.1a7.25,7.25 0 1,0 14.5,0a7.25,7.25 0 1,0 -14.5,0M680.5,317.9a7.25,7.25 0 1,0 14.5,0a7.25,7.25 0 1,0 -14.5,0M682.7,324.3a7.25,7.25 0 1,0 14.5,0a7.25,7.25 0 1,0 -14.5,0M682.3,326.2a7.25,7.25 0 1,0 14.5,0a7.25,7.25 0 1,0 -14.5,0M685.0,320.4a7.25,7.25 0 1,0 14.5,0a7.25,7.25 0 1,0 -14.5,0M685.0,328.1a7.25,7.25 0 1,0 14.5,0a7.25,7.25 0 1,0 -14.5,0M688.0,324.8a7.25,7.25 0 1,0 14.5,0a7.25,7.25 0 1,0 -14.5,0M687.6,329.1a7.25,7.25 0 1,0 14.5,0a7.25,7.25 0 1,0 -14.5,0M690.8,323.7a7.25,7.25 0 1,0 14.5,0a7.25,7.25 0 1,0 -14.5,0M689.8,327.4a7.25,7.25 0 1,0 14.5,0a7.25,7.25 0 1,0 -14.5,0M692.3,326.2a7.25,7.25 0 1,0 14.5,0a7.25,7.25 0 1,0 -14.5,0M692.4,325.7a7.25,7.25 0 1,0 14.5,0a7.25,7.25 0 1,0 -14.5,0M694.5,330.3a7.25,7.25 0 1,0 14.5,0a7.25,7.25 0 1,0 -14.5,0M695.1,332.6a7.25,7.25 0 1,0 14.5,0a7.25,7.25 0 1,0 -14.5,0M698.4,337.7a7.25,7.25 0 1,0 14.5,0a7.25,7.25 0 1,0 -14.5,0M697.7,329.8a7.25,7.25 0 1,0 14.5,0a7.25,7.25 0 1,0 -14.5,0M700.4,333.0a7.25,7.25 0 1,0 14.5,0a7.25,7.25 0 1,0 -14.5,0M700.4,338.8a7.25,7.25 0 1,0 14.5,0a7.25,7.25 0 1,0 -14.5,0M703.2,340.7a7.25,7.25 0 1,0 14.5,0a7.25,7.25 0 1,0 -14.5,0M703.2,338.1a7.25,7.25 0 1,0 14.5,0a7.25,7.25 0 1,0 -14.5,0M706.0,338.9a7.25,7.25 0 1,0 14.5,0a7.25,7.25 0 1,0 -14.5,0M705.6,338.1a7.25,7.25 0 1,0 14.5,0a7.25,7.25 0 1,0 -14.5,0M708.5,337.7a7.25,7.25 0 1,0 14.5,0a7.25,7.25 0 1,0 -14.5,0M707.6,338.7a7.25,7.25 0 1,0 14.5,0a7.25,7.25 0 1,0 -14.5,0M709.8,341.9a7.25,7.25 0 1,0 14.5,0a7.25,7.25 0 1,0 -14.5,0M710.3,336.8a7.25,7.25 0 1,0 14.5,0a7.25,7.25 0 1,0 -14.5,0M713.0,342.2a7.25,7.25 0 1,0 14.5,0a7.25,7.25 0 1,0 -14.5,0M712.9,337.5a7.25,7.25 0 1,0 14.5,0a7.25,7.25 0 1,0 -14.5,0M715.3,335.1a7.25,7.25 0 1,0 14.5,0a7.25,7.25 0 1,0 -14.5,0M715.1,335.2a7.25,7.25 0 1,0 14.5,0a7.25,7.25 0 1,0 -14.5,0M717.9,337.1a7.25,7.25 0 1,0 14.5,0a7.25,7.25 0 1,0 -14.5,0M717.3,345.5a7.25,7.25 0 1,0 14.5,0a7.25,7.25 0 1,0 -14.5,0M720.6,340.0a7.25,7.25 0 1,0 14.5,0a7.25,7.25 0 1,0 -14.5,0M719.5,348.8a7.25,7.25 0 1,0 14.5,0a7.25,7.25 0 1,0 -14.5,0M722.6,339.3a7.25,7.25 0 1,0 14.5,0a7.25,7.25 0 1,0 -14.5,0M722.8,348.4a7.25,7.25 0 1,0 14.5,0a7.25,7.25 0 1,0 -14.5,0M725.4,343.3a7.25,7.25 0 1,0 14.5,0a7.25,7.25 0 1,0 -14.5,0M725.3,344.2a7.25,7.25 0 1,0 14.5,0a7.25,7.25 0 1,0 -14.5,0M728.5,350.6a7.25,7.25 0 1,0 14.5,0a7.25,7.25 0 1,0 -14.5,0M727.3,348.3a7.25,7.25 0 1,0 14.5,0a7.25,7.25 0 1,0 -14.5,0M730.7,344.9a7.25,7.25 0 1,0 14.5,0a7.25,7.25 0 1,0 -14.5,0M729.7,349.3a7.25,7.25 0 1,0 14.5,0a7.25,7.25 0 1,0 -14.5,0M733.0,349.0a7.25,7.25 0 1,0 14.5,0a7.25,7.25 0 1,0 -14.5,0M732.8,351.1a7.25,7.25 0 1,0 14.5,0a7.25,7.25 0 1,0 -14.5,0M735.6,346.5a7.25,7.25 0 1,0 14.5,0a7.25,7.25 0 1,0 -14.5,0M735.0,347.1a7.25,7.25 0 1,0 14.5,0a7.25,7.25 0 1,0 -14.5,0M737.3,357.7a7.25,7.25 0 1,0 14.5,0a7.25,7.25 0 1,0 -14.5,0M737.9,356.8a7.25,7.25 0 1,0 14.5,0a7.25,7.25 0 1,0 -14.5,0M740.1,350.8a7.25,7.25 0 1,0 14.5,0a7.25,7.25 0 1,0 -14.5,0M739.6,357.5a7.25,7.25 0 1,0 14.5,0a7.25,7.25 0 1,0 -14.5,0M743.3,358.4a7.25,7.25 0 1,0 14.5,0a7.25,7.25 0 1,0 -14.5,0M742.3,358.8a7.25,7.25 0 1,0 14.5,0a7.25,7.25 0 1,0 -14.5,0M745.9,354.8a7.25,7.25 0 1,0 14.5,0a7.25,7.25 0 1,0 -14.5,0M745.2,362.9a7.25,7.25 0 1,0 14.5,0a7.25,7.25 0 1,0 -14.5,0M747.3,360.4a7.25,7.25 0 1,0 14.5,0a7.25,7.25 0 1,0 -14.5,0M748.2,359.4a7.25,7.25 0 1,0 14.5,0a7.25,7.25 0 1,0 -14.5,0M750.9,360.0a7.25,7.25 0 1,0 14.5,0a7.25,7.25 0 1,0 -14.5,0M749.7,358.3a7.25,7.25 0 1,0 14.5,0a7.25,7.25 0 1,0 -14.5,0M752.5,361.5a7.25,7.25 0 1,0 14.5,0a7.25,7.25 0 1,0 -14.5,0M752.6,365.4a7.25,7.25 0 1,0 14.5,0a7.25,7.25 0 1,0 -14.5,0M755.5,366.5a7.25,7.25 0 1,0 14.5,0a7.25,7.25 0 1,0 -14.5,0M755.4,357.7a7.25,7.25 0 1,0 14.5,0a7.25,7.25 0 1,0 -14.5,0M757.2,359.8a7.25,7.25 0 1,0 14.5,0a7.25,7.25 0 1,0 -14.5,0M758.1,362.7a7.25,7.25 0 1,0 14.5,0a7.25,7.25 0 1,0 -14.5,0M760.8,370.5a7.25,7.25 0 1,0 14.5,0a7.25,7.25 0 1,0 -14.5,0M760.8,367.7a7.25,7.25 0 1,0 14.5,0a7.25,7.25 0 1,0 -14.5,0M762.3,362.2a7.25,7.25 0 1,0 14.5,0a7.25,7.25 0 1,0 -14.5,0M762.7,370.8a7.25,7.25 0 1,0 14.5,0a7.25,7.25 0 1,0 -14.5,0M765.9,363.6a7.25,7.25 0 1,0 14.5,0a7.25,7.25 0 1,0 -14.5,0M764.5,367.6a7.25,7.25 0 1,0 14.5,0a7.25,7.25 0 1,0 -14.5,0M767.9,368.0a7.25,7.25 0 1,0 14.5,0a7.25,7.25 0 1,0 -14.5,0M768.1,373.2a7.25,7.25 0 1,0 14.5,0a7.25,7.25 0 1,0 -14.5,0M770.8,376.7a7.25,7.25 0 1,0 14.5,0a7.25,7.25 0 1,0 -14.5,0M769.7,376.9a7.25,7.25 0 1,0 14.5,0a7.25,7.25 0 1,0 -14.5,0M772.1,374.3a7.25,7.25 0 1,0 14.5,0a7.25,7.25 0 1,0 -14.5,0M773.2,368.4a7.25,7.25 0 1,0 14.5,0a7.25,7.25 0 1,0 -14.5,0M774.9,376.6a7.25,7.25 0 1,0 14.5,0a7.25,7.25 0 1,0 -14.5,0M775.1,369.7a7.25,7.25 0 1,0 14.5,0a7.25,7.25 0 1,0 -14.5,0M777.0,377.1a7.25,7.25 0 1,0 14.5,0a7.25,7.25 0 1,0 -14.5,0M777.2,371.6a7.25,7.25 0 1,0 14.5,0a7.25,7.25 0 1,0 -14.5,0M779.9,377.6a7.25,7.25 0 1,0 14.5,0a7.25,7.25 0 1,0 -14.5,0M779.6,375.2a7.25,7.25 0 1,0 14.5,0a7.25,7.25 0 1,0 -14.5,0M782.4,375.7a7.25,7.25 0 1,0 14.5,0a7.25,7.25 0 1,0 -14.5,0M783.1,378.2a7.25,7.25 0 1,0 14.5,0a7.25,7.25 0 1,0 -14.5,0M785.7,385.2a7.25,7.25 0 1,0 14.5,0a7.25,7.25 0 1,0 -14.5,0M786.0,376.9a7.25,7.25 0 1,0 14.5,0a7.25,7.25 0 1,0 -14.5,0M788.0,377.1a7.25,7.25 0 1,0 14.5,0a7.25,7.25 0 1,0 -14.5,0M787.0,383.0a7.25,7.25 0 1,0 14.5,0a7.25,7.25 0 1,0 -14.5,0M790.3,378.8a7.25,7.25 0 1,0 14.5,0a7.25,7.25 0 1,0 -14.5,0M789.9,385.4a7.25,7.25 0 1,0 14.5,0a7.25,7.25 0 1,0 -14.5,0M792.9,379.6a7.25,7.25 0 1,0 14.5,0a7.25,7.25 0 1,0 -14.5,0M793.3,378.5a7.25,7.25 0 1,0 14.5,0a7.25,7.25 0 1,0 -14.5,0M795.1,387.0a7.25,7.25 0 1,0 14.5,0a7.25,7.25 0 1,0 -14.5,0M794.8,381.5a7.25,7.25 0 1,0 14.5,0a7.25,7.25 0 1,0 -14.5,0M797.8,391.9a7.25,7.25 0 1,0 14.5,0a7.25,7.25 0 1,0 -14.5,0M797.2,382.4a7.25,7.25 0 1,0 14.5,0a7.25,7.25 0 1,0 -14.5,0M799.9,394.0a7.25,7.25 0 1,0 14.5,0a7.25,7.25 0 1,0 -14.5,0M799.5,389.6a7.25,7.25 0 1,0 14.5,0a7.25,7.25 0 1,0 -14.5,0M803.0,395.2a7.25,7.25 0 1,0 14.5,0a7.25,7.25 0 1,0 -14.5,0M802.2,392.9a7.25,7.25 0 1,0 14.5,0a7.25,7.25 0 1,0 -14.5,0M805.1,396.1a7.25,7.25 0 1,0 14.5,0a7.25,7.25 0 1,0 -14.5,0M805.9,392.8a7.25,7.25 0 1,0 14.5,0a7.25,7.25 0 1,0 -14.5,0M808.0,388.6a7.25,7.25 0 1,0 14.5,0a7.25,7.25 0 1,0 -14.5,0M807.4,398.1a7.25,7.25 0 1,0 14.5,0a7.25,7.25 0 1,0 -14.5,0M810.5,392.2a7.25,7.25 0 1,0 14.5,0a7.25,7.25 0 1,0 -14.5,0M809.8,398.9a7.25,7.25 0 1,0 14.5,0a7.25,7.25 0 1,0 -14.5,0M813.2,398.6a7.25,7.25 0 1,0 14.5,0a7.25,7.25 0 1,0 -14.5,0M813.3,393.4a7.25,7.25 0 1,0 14.5,0a7.25,7.25 0 1,0 -14.5,0M815.2,403.2a7.25,7.25 0 1,0 14.5,0a7.25,7.25 0 1,0 -14.5,0M815.6,397.4a7.25,7.25 0 1,0 14.5,0a7.25,7.25 0 1,0 -14.5,0M817.6,405.0a7.25,7.25 0 1,0 14.5,0a7.25,7.25 0 1,0 -14.5,0M818.0,396.8a7.25,7.25 0 1,0 14.5,0a7.25,7.25 0 1,0 -14.5,0M820.0,399.4a7.25,7.25 0 1,0 14.5,0a7.25,7.25 0 1,0 -14.5,0M820.0,401.9a7.25,7.25 0 1,0 14.5,0a7.25,7.25 0 1,0 -14.5,0M822.0,398.4a7.25,7.25 0 1,0 14.5,0a7.25,7.25 0 1,0 -14.5,0M823.1,403.6a7.25,7.25 0 1,0 14.5,0a7.25,7.25 0 1,0 -14.5,0M824.5,405.6a7.25,7.25 0 1,0 14.5,0a7.25,7.25 0 1,0 -14.5,0M825.5,404.2a7.25,7.25 0 1,0 14.5,0a7.25,7.25 0 1,0 -14.5,0M827.3,412.5a7.25,7.25 0 1,0 14.5,0a7.25,7.25 0 1,0 -14.5,0M828.2,408.0a7.25,7.25 0 1,0 14.5,0a7.25,7.25 0 1,0 -14.5,0M830.5,412.0a7.25,7.25 0 1,0 14.5,0a7.25,7.25 0 1,0 -14.5,0M830.4,407.9a7.25,7.25 0 1,0 14.5,0a7.25,7.25 0 1,0 -14.5,0M832.6,408.7a7.25,7.25 0 1,0 14.5,0a7.25,7.25 0 1,0 -14.5,0M832.5,406.8a7.25,7.25 0 1,0 14.5,0a7.25,7.25 0 1,0 -14.5,0M835.7,411.4a7.25,7.25 0 1,0 14.5,0a7.25,7.25 0 1,0 -14.5,0M834.5,410.2a7.25,7.25 0 1,0 14.5,0a7.25,7.25 0 1,0 -14.5,0M838.3,416.8a7.25,7.25 0 1,0 14.5,0a7.25,7.25 0 1,0 -14.5,0M837.3,410.3a7.25,7.25 0 1,0 14.5,0a7.25,7.25 0 1,0 -14.5,0M840.1,418.3a7.25,7.25 0 1,0 14.5,0a7.25,7.25 0 1,0 -14.5,0M840.4,413.2a7.25,7.25 0 1,0 14.5,0a7.25,7.25 0 1,0 -14.5,0M843.2,423.6a7.25,7.25 0 1,0 14.5,0a7.25,7.25 0 1,0 -14.5,0M842.8,425.2a7.25,7.25 0 1,0 14.5,0a7.25,7.25 0 1,0 -14.5,0M844.8,418.4a7.25,7.25 0 1,0 14.5,0a7.25,7.25 0 1,0 -14.5,0M844.8,426.2a7.25,7.25 0 1,0 14.5,0a7.25,7.25 0 1,0 -14.5,0M848.3,420.0a7.25,7.25 0 1,0 14.5,0a7.25,7.25 0 1,0 -14.5,0M848.1,421.6a7.25,7.25 0 1,0 14.5,0a7.25,7.25 0 1,0 -14.5,0M850.7,422.9a7.25,7.25 0 1,0 14.5,0a7.25,7.25 0 1,0 -14.5,0M850.4,426.7a7.25,7.25 0 1,0 14.5,0a7.25,7.25 0 1,0 -14.5,0M852.9,431.6a7.25,7.25 0 1,0 14.5,0a7.25,7.25 0 1,0 -14.5,0M852.9,424.1a7.25,7.25 0 1,0 14.5,0a7.25,7.25 0 1,0 -14.5,0M855.0,426.5a7.25,7.25 0 1,0 14.5,0a7.25,7.25 0 1,0 -14.5,0M855.3,428.3a7.25,7.25 0 1,0 14.5,0a7.25,7.25 0 1,0 -14.5,0M857.7,429.0a7.25,7.25 0 1,0 14.5,0a7.25,7.25 0 1,0 -14.5,0M858.2,430.6a7.25,7.25 0 1,0 14.5,0a7.25,7.25 0 1,0 -14.5,0M860.2,432.4a7.25,7.25 0 1,0 14.5,0a7.25,7.25 0 1,0 -14.5,0M860.3,431.3a7.25,7.25 0 1,0 14.5,0a7.25,7.25 0 1,0 -14.5,0M862.7,429.2a7.25,7.25 0 1,0 14.5,0a7.25,7.25 0 1,0 -14.5,0M862.8,431.6a7.25,7.25 0 1,0 14.5,0a7.25,7.25 0 1,0 -14.5,0M865.1,431.9a7.25,7.25 0 1,0 14.5,0a7.25,7.25 0 1,0 -14.5,0M864.6,434.9a7.25,7.25 0 1,0 14.5,0a7.25,7.25 0 1,0 -14.5,0M867.9,432.2a7.25,7.25 0 1,0 14.5,0a7.25,7.25 0 1,0 -14.5,0M868.4,434.5a7.25,7.25 0 1,0 14.5,0a7.25,7.25 0 1,0 -14.5,0M870.0,436.7a7.25,7.25 0 1,0 14.5,0a7.25,7.25 0 1,0 -14.5,0M871.0,443.7a7.25,7.25 0 1,0 14.5,0a7.25,7.25 0 1,0 -14.5,0M873.5,443.8a7.25,7.25 0 1,0 14.5,0a7.25,7.25 0 1,0 -14.5,0M873.2,436.5a7.25,7.25 0 1,0 14.5,0a7.25,7.25 0 1,0 -14.5,0M874.9,447.0a7.25,7.25 0 1,0 14.5,0a7.25,7.25 0 1,0 -14.5,0M875.2,438.6a7.25,7.25 0 1,0 14.5,0a7.25,7.25 0 1,0 -14.5,0M877.6,443.6a7.25,7.25 0 1,0 14.5,0a7.25,7.25 0 1,0 -14.5,0M878.0,446.0a7.25,7.25 0 1,0 14.5,0a7.25,7.25 0 1,0 -14.5,0M880.2,442.6a7.25,7.25 0 1,0 14.5,0a7.25,7.25 0 1,0 -14.5,0M880.4,447.4a7.25,7.25 0 1,0 14.5,0a7.25,7.25 0 1,0 -14.5,0M882.5,452.4a7.25,7.25 0 1,0 14.5,0a7.25,7.25 0 1,0 -14.5,0M882.7,442.5a7.25,7.25 0 1,0 14.5,0a7.25,7.25 0 1,0 -14.5,0M885.1,448.8a7.25,7.25 0 1,0 14.5,0a7.25,7.25 0 1,0 -14.5,0M885.0,451.5a7.25,7.25 0 1,0 14.5,0a7.25,7.25 0 1,0 -14.5,0M888.1,449.3a7.25,7.25 0 1,0 14.5,0a7.25,7.25 0 1,0 -14.5,0M888.1,453.1a7.25,7.25 0 1,0 14.5,0a7.25,7.25 0 1,0 -14.5,0M889.8,456.7a7.25,7.25 0 1,0 14.5,0a7.25,7.25 0 1,0 -14.5,0M889.5,456.3a7.25,7.25 0 1,0 14.5,0a7.25,7.25 0 1,0 -14.5,0M893.2,456.2a7.25,7.25 0 1,0 14.5,0a7.25,7.25 0 1,0 -14.5,0M892.0,456.5a7.25,7.25 0 1,0 14.5,0a7.25,7.25 0 1,0 -14.5,0M894.8,452.1a7.25,7.25 0 1,0 14.5,0a7.25,7.25 0 1,0 -14.5,0M895.9,454.4a7.25,7.25 0 1,0 14.5,0a7.25,7.25 0 1,0 -14.5,0M898.5,457.9a7.25,7.25 0 1,0 14.5,0a7.25,7.25 0 1,0 -14.5,0M898.4,457.2a7.25,7.25 0 1,0 14.5,0a7.25,7.25 0 1,0 -14.5,0M901.0,459.5a7.25,7.25 0 1,0 14.5,0a7.25,7.25 0 1,0 -14.5,0M900.1,456.5a7.25,7.25 0 1,0 14.5,0a7.25,7.25 0 1,0 -14.5,0M902.8,458.7a7.25,7.25 0 1,0 14.5,0a7.25,7.25 0 1,0 -14.5,0M903.5,463.8a7.25,7.25 0 1,0 14.5,0a7.25,7.25 0 1,0 -14.5,0M905.9,464.6a7.25,7.25 0 1,0 14.5,0a7.25,7.25 0 1,0 -14.5,0M905.8,463.6a7.25,7.25 0 1,0 14.5,0a7.25,7.25 0 1,0 -14.5,0M908.5,463.3a7.25,7.25 0 1,0 14.5,0a7.25,7.25 0 1,0 -14.5,0M907.3,465.0a7.25,7.25 0 1,0 14.5,0a7.25,7.25 0 1,0 -14.5,0M574.8,292.0a7.25,7.25 0 1,0 14.5,0a7.25,7.25 0 1,0 -14.5,0M655.8,313.0a7.25,7.25 0 1,0 14.5,0a7.25,7.25 0 1,0 -14.5,0M738.8,367.7a7.25,7.25 0 1,0 14.5,0a7.25,7.25 0 1,0 -14.5,0M762.2,387.2a7.25,7.25 0 1,0 14.5,0a7.25,7.25 0 1,0 -14.5,0M872.8,453.8a7.25,7.25 0 1,0 14.5,0a7.25,7.25 0 1,0 -14.5,0M909.4,435.5a7.25,7.25 0 1,0 14.5,0a7.25,7.25 0 1,0 -14.5,0M913.8,443.0a7.25,7.25 0 1,0 14.5,0a7.25,7.25 0 1,0 -14.5,0M922.5,427.8a7.25,7.25 0 1,0 14.5,0a7.25,7.25 0 1,0 -14.5,0M929.0,431.0a7.25,7.25 0 1,0 14.5,0a7.25,7.25 0 1,0 -14.5,0M933.4,438.8a7.25,7.25 0 1,0 14.5,0a7.25,7.25 0 1,0 -14.5,0M927.8,438.8a7.25,7.25 0 1,0 14.5,0a7.25,7.25 0 1,0 -14.5,0M910.8,433.0a7.25,7.25 0 1,0 14.5,0a7.25,7.25 0 1,0 -14.5,0M917.8,440.0a7.25,7.25 0 1,0 14.5,0a7.25,7.25 0 1,0 -14.5,0M924.8,436.0a7.25,7.25 0 1,0 14.5,0a7.25,7.25 0 1,0 -14.5,0M919.8,430.0a7.25,7.25 0 1,0 14.5,0a7.25,7.25 0 1,0 -14.5,0M930.8,434.0a7.25,7.25 0 1,0 14.5,0a7.25,7.25 0 1,0 -14.5,0M922.8,441.0a7.25,7.25 0 1,0 14.5,0a7.25,7.25 0 1,0 -14.5,0" fill="none" stroke="#f00" stroke-width="3"/>
<path d="M228.5,54.5h15.0v15.0h-15.0zM233.2,63.0h15.0v15.0h-15.0zM233.5,155.5h15.0v15.0h-15.0zM264.5,201.5h15.0v15.0h-15.0zM231.3,185.7h15.0v15.0h-15.0zM231.0,187.7h15.0v15.0h-15.0zM234.1,187.9h15.0v15.0h-15.0zM234.1,186.9h15.0v15.0h-15.0zM236.9,188.3h15.0v15.0h-15.0zM236.9,188.6h15.0v15.0h-15.0zM239.5,188.5h15.0v15.0h-15.0zM238.4,187.4h15.0v15.0h-15.0zM241.9,188.2h15.0v15.0h-15.0zM241.7,190.0h15.0v15.0h-15.0zM243.3,191.2h15.0v15.0h-15.0zM243.3,191.5h15.0v15.0h-15.0zM247.0,189.2h15.0v15.0h-15.0zM246.9,191.5h15.0v15.0h-15.0zM248.4,191.7h15.0v15.0h-15.0zM248.4,192.9h15.0v15.0h-15.0zM251.8,193.8h15.0v15.0h-15.0zM250.8,190.5h15.0v15.0h-15.0zM254.2,192.4h15.0v15.0h-15.0zM253.5,193.9h15.0v15.0h-15.0zM257.1,191.3h15.0v15.0h-15.0zM255.9,193.3h15.0v15.0h-15.0zM258.9,193.8h15.0v15.0h-15.0zM259.0,192.2h15.0v15.0h-15.0zM260.7,191.2h15.0v15.0h-15.0zM261.4,194.7h15.0v15.0h-15.0zM263.9,195.2h15.0v15.0h-15.0zM264.1,196.1h15.0v15.0h-15.0zM266.7,193.0h15.0v15.0h-15.0zM265.9,191.4h15.0v15.0h-15.0zM268.3,196.8h15.0v15.0h-15.0zM269.6,196.1h15.0v15.0h-15.0zM270.9,196.0h15.0v15.0h-15.0zM270.9,197.4h15.0v15.0h-15.0zM274.2,197.0h15.0v15.0h-15.0zM274.2,194.8h15.0v15.0h-15.0zM277.1,198.8h15.0v15.0h-15.0zM276.1,195.3h15.0v15.0h-15.0zM279.4,197.3h15.0v15.0h-15.0zM278.9,195.7h15.0v15.0h-15.0zM282.2,194.9h15.0v15.0h-15.0zM281.0,197.8h15.0v15.0h-15.0zM283.6,199.8h15.0v15.0h-15.0zM283.7,199.9h15.0v15.0h-15.0zM286.3,200.1h15.0v15.0h-15.0zM286.9,199.0h15.0v15.0h-15.0zM288.5,195.1h15.0v15.0h-15.0zM288.2,195.3h15.0v15.0h-15.0zM291.8,194.7h15.0v15.0h-15.0zM291.1,198.6h15.0v15.0h-15.0zM293.4,197.1h15.0v15.0h-15.0zM293.6,199.8h15.0v15.0h-15.0zM295.9,202.8h15.0v15.0h-15.0zM296.7,200.5h15.0v15.0h-15.0zM299.1,199.3h15.0v15.0h-15.0zM299.8,202.5h15.0v15.0h-15.0zM302.0,196.2h15.0v15.0h-15.0zM301.6,203.5h15.0v15.0h-15.0zM304.2,200.6h15.0v15.0h-15.0zM304.2,197.9h15.0v15.0h-15.0zM306.9,203.4h15.0v15.0h-15.0zM305.8,201.2h15.0v15.0h-15.0zM309.2,200.5h15.0v15.0h-15.0zM309.3,205.1h15.0v15.0h-15.0zM312.1,200.7h15.0v15.0h-15.0zM310.9,205.1h15.0v15.0h-15.0zM314.2,205.4h15.0v15.0h-15.0zM314.6,201.0h15.0v15.0h-15.0zM316.6,201.7h15.0v15.0h-15.0zM317.0,204.9h15.0v15.0h-15.0zM318.6,203.8h15.0v15.0h-15.0zM319.2,201.7h15.0v15.0h-15.0zM321.0,204.1h15.0v15.0h-15.0zM320.8,204.3h15.0v15.0h-15.0zM324.7,207.5h15.0v15.0h-15.0zM323.3,207.5h15.0v15.0h-15.0zM326.8,207.0h15.0v15.0h-15.0zM325.7,207.5h15.0v15.0h-15.0zM328.5,208.3h15.0v15.0h-15.0zM328.7,204.8h15.0v15.0h-15.0zM331.0,209.3h15.0v15.0h-15.0zM331.1,209.4h15.0v15.0h-15.0zM334.0,204.1h15.0v15.0h-15.0zM334.2,207.2h15.0v15.0h-15.0zM335.7,210.0h15.0v15.0h-15.0zM336.1,203.6h15.0v15.0h-15.0zM339.4,209.8h15.0v15.0h-15.0zM338.8,205.4h15.0v15.0h-15.0zM341.5,209.1h15.0v15.0h-15.0zM341.8,208.4h15.0v15.0h-15.0zM344.1,210.7h15.0v15.0h-15.0zM343.5,206.4h15.0v15.0h-15.0zM346.5,211.5h15.0v15.0h-15.0zM347.0,212.3h15.0v15.0h-15.0zM348.9,211.7h15.0v15.0h-15.0zM348.4,209.1h15.0v15.0h-15.0zM350.8,213.2h15.0v15.0h-15.0zM352.3,211.9h15.0v15.0h-15.0zM354.4,209.9h15.0v15.0h-15.0zM354.5,207.7h15.0v15.0h-15.0zM356.3,210.2h15.0v15.0h-15.0zM357.1,208.8h15.0v15.0h-15.0zM358.5,208.7h15.0v15.0h-15.0zM359.5,210.4h15.0v15.0h-15.0zM362.1,210.8h15.0v15.0h-15.0zM362.0,209.9h15.0v15.0h-15.0zM364.6,216.1h15.0v15.0h-15.0zM364.6,214.0h15.0v15.0h-15.0zM367.1,216.0h15.0v15.0h-15.0zM367.2,211.5h15.0v15.0h-15.0zM369.6,215.5h15.0v15.0h-15.0zM368.8,211.2h15.0v15.0h-15.0zM372.1,213.7h15.0v15.0h-15.0zM371.5,216.6h15.0v15.0h-15.0zM374.0,212.7h15.0v15.0h-15.0zM374.3,214.6h15.0v15.0h-15.0zM376.1,216.0h15.0v15.0h-15.0zM377.1,213.1h15.0v15.0h-15.0zM379.5,216.8h15.0v15.0h-15.0zM379.0,213.2h15.0v15.0h-15.0zM381.8,214.3h15.0v15.0h-15.0zM381.1,217.9h15.0v15.0h-15.0zM383.6,213.6h15.0v15.0h-15.0zM384.6,219.1h15.0v15.0h-15.0zM386.2,215.9h15.0v15.0h-15.0zM386.6,218.0h15.0v15.0h-15.0zM388.7,103.7h15.0v15.0h-15.0zM388.1,104.8h15.0v15.0h-15.0zM391.4,109.0h15.0v15.0h-15.0zM391.6,105.2h15.0v15.0h-15.0zM393.4,106.0h15.0v15.0h-15.0zM393.0,109.3h15.0v15.0h-15.0zM395.2,108.4h15.0v15.0h-15.0zM396.2,110.9h15.0v15.0h-15.0zM398.1,112.7h15.0v15.0h-15.0zM399.0,108.1h15.0v15.0h-15.0zM401.5,114.8h15.0v15.0h-15.0zM400.7,110.4h15.0v15.0h-15.0zM404.2,113.0h15.0v15.0h-15.0zM402.8,111.1h15.0v15.0h-15.0zM406.6,116.3h15.0v15.0h-15.0zM406.5,117.4h15.0v15.0h-15.0zM408.6,120.5h15.0v15.0h-15.0zM408.3,117.1h15.0v15.0h-15.0zM411.5,118.8h15.0v15.0h-15.0zM411.6,118.5h15.0v15.0h-15.0zM413.8,115.4h15.0v15.0h-15.0zM413.1,117.3h15.0v15.0h-15.0zM415.3,118.0h15.0v15.0h-15.0zM415.4,118.4h15.0v15.0h-15.0zM418.7,120.2h15.0v15.0h-15.0zM418.3,119.0h15.0v15.0h-15.0zM420.6,126.0h15.0v15.0h-15.0zM421.2,123.4h15.0v15.0h-15.0zM423.0,125.5h15.0v15.0h-15.0zM423.0,122.7h15.0v15.0h-15.0zM426.8,125.9h15.0v15.0h-15.0zM426.1,126.3h15.0v15.0h-15.0zM429.0,128.2h15.0v15.0h-15.0zM428.1,122.2h15.0v15.0h-15.0zM430.7,125.2h15.0v15.0h-15.0zM430.5,130.6h15.0v15.0h-15.0zM434.1,126.7h15.0v15.0h-15.0zM433.7,127.3h15.0v15.0h-15.0zM436.7,128.9h15.0v15.0h-15.0zM435.6,127.3h15.0v15.0h-15.0zM438.6,128.5h15.0v15.0h-15.0zM438.6,133.6h15.0v15.0h-15.0zM440.8,129.3h15.0v15.0h-15.0zM441.8,131.6h15.0v15.0h-15.0zM442.8,129.0h15.0v15.0h-15.0zM442.9,133.6h15.0v15.0h-15.0zM446.5,133.1h15.0v15.0h-15.0zM445.3,132.8h15.0v15.0h-15.0zM449.3,135.1h15.0v15.0h-15.0zM449.3,137.7h15.0v15.0h-15.0zM450.2,137.7h15.0v15.0h-15.0zM451.3,136.2h15.0v15.0h-15.0zM453.1,138.2h15.0v15.0h-15.0zM452.9,136.5h15.0v15.0h-15.0zM455.9,142.0h15.0v15.0h-15.0zM456.6,136.3h15.0v15.0h-15.0zM458.5,136.7h15.0v15.0h-15.0zM459.2,142.7h15.0v15.0h-15.0zM460.7,142.0h15.0v15.0h-15.0zM461.2,137.7h15.0v15.0h-15.0zM463.9,142.4h15.0v15.0h-15.0zM463.9,142.3h15.0v15.0h-15.0zM465.2,141.6h15.0v15.0h-15.0zM465.2,147.4h15.0v15.0h-15.0zM469.1,147.8h15.0v15.0h-15.0zM468.2,140.1h15.0v15.0h-15.0zM471.6,150.3h15.0v15.0h-15.0zM470.3,145.7h15.0v15.0h-15.0zM472.8,149.9h15.0v15.0h-15.0zM473.9,143.5h15.0v15.0h-15.0zM476.0,149.1h15.0v15.0h-15.0zM475.6,152.3h15.0v15.0h-15.0zM478.4,147.1h15.0v15.0h-15.0zM478.6,152.3h15.0v15.0h-15.0zM480.5,149.5h15.0v15.0h-15.0zM481.8,152.9h15.0v15.0h-15.0zM483.4,152.9h15.0v15.0h-15.0zM482.9,150.0h15.0v15.0h-15.0zM485.7,155.0h15.0v15.0h-15.0zM485.6,151.3h15.0v15.0h-15.0zM487.8,156.8h15.0v15.0h-15.0zM488.1,159.6h15.0v15.0h-15.0zM491.6,152.8h15.0v15.0h-15.0zM490.6,158.8h15.0v15.0h-15.0zM493.0,155.0h15.0v15.0h-15.0zM494.2,159.4h15.0v15.0h-15.0zM496.0,163.1h15.0v15.0h-15.0zM496.5,157.2h15.0v15.0h-15.0zM497.9,161.2h15.0v15.0h-15.0zM498.4,161.5h15.0v15.0h-15.0zM501.4,165.6h15.0v15.0h-15.0zM501.8,160.0h15.0v15.0h-15.0zM503.3,164.7h15.0v15.0h-15.0zM504.1,163.9h15.0v15.0h-15.0zM505.5,168.2h15.0v15.0h-15.0zM505.9,166.6h15.0v15.0h-15.0zM508.1,174.8h15.0v15.0h-15.0zM508.4,174.3h15.0v15.0h-15.0zM511.1,169.4h15.0v15.0h-15.0zM511.8,176.3h15.0v15.0h-15.0zM514.3,179.3h15.0v15.0h-15.0zM514.1,172.9h15.0v15.0h-15.0zM516.0,175.7h15.0v15.0h-15.0zM515.8,174.5h15.0v15.0h-15.0zM518.3,184.5h15.0v15.0h-15.0zM518.1,182.9h15.0v15.0h-15.0zM520.9,182.9h15.0v15.0h-15.0zM521.7,187.2h15.0v15.0h-15.0zM523.6,187.9h15.0v15.0h-15.0zM522.9,184.9h15.0v15.0h-15.0zM526.7,189.8h15.0v15.0h-15.0zM526.1,190.9h15.0v15.0h-15.0zM527.8,192.6h15.0v15.0h-15.0zM528.5,194.3h15.0v15.0h-15.0zM530.5,197.7h15.0v15.0h-15.0zM530.3,193.0h15.0v15.0h-15.0zM535.5,214.5h15.0v15.0h-15.0zM537.5,210.5h15.0v15.0h-15.0zM543.8,221.3h15.0v15.0h-15.0zM543.9,220.4h15.0v15.0h-15.0zM546.8,224.0h15.0v15.0h-15.0zM546.4,222.9h15.0v15.0h-15.0zM547.7,225.0h15.0v15.0h-15.0zM548.3,226.7h15.0v15.0h-15.0zM550.6,228.6h15.0v15.0h-15.0zM550.4,226.3h15.0v15.0h-15.0zM553.1,231.3h15.0v15.0h-15.0zM552.3,228.4h15.0v15.0h-15.0zM554.5,232.4h15.0v15.0h-15.0zM554.9,232.8h15.0v15.0h-15.0zM556.5,235.1h15.0v15.0h-15.0zM556.3,232.9h15.0v15.0h-15.0zM557.8,238.9h15.0v15.0h-15.0zM559.0,236.3h15.0v15.0h-15.0zM561.1,239.6h15.0v15.0h-15.0zM559.9,240.9h15.0v15.0h-15.0zM562.6,244.2h15.0v15.0h-15.0zM562.8,240.8h15.0v15.0h-15.0zM564.7,246.5h15.0v15.0h-15.0zM565.1,244.7h15.0v15.0h-15.0zM566.5,249.1h15.0v15.0h-15.0zM566.0,249.7h15.0v15.0h-15.0zM568.9,249.4h15.0v15.0h-15.0zM568.6,250.7h15.0v15.0h-15.0zM570.0,254.5h15.0v15.0h-15.0zM571.3,254.3h15.0v15.0h-15.0zM571.9,257.0h15.0v15.0h-15.0zM572.9,258.9h15.0v15.0h-15.0zM574.8,258.4h15.0v15.0h-15.0zM575.2,260.6h15.0v15.0h-15.0zM575.8,262.1h15.0v15.0h-15.0zM575.8,264.3h15.0v15.0h-15.0zM577.9,268.2h15.0v15.0h-15.0zM577.9,267.1h15.0v15.0h-15.0zM580.4,267.5h15.0v15.0h-15.0zM579.7,271.4h15.0v15.0h-15.0zM583.3,270.4h15.0v15.0h-15.0zM582.9,274.7h15.0v15.0h-15.0zM585.1,277.0h15.0v15.0h-15.0zM584.2,276.1h15.0v15.0h-15.0zM586.5,280.1h15.0v15.0h-15.0zM586.8,279.6h15.0v15.0h-15.0zM589.1,279.1h15.0v15.0h-15.0zM588.8,277.3h15.0v15.0h-15.0zM590.0,284.6h15.0v15.0h-15.0zM590.3,283.1h15.0v15.0h-15.0zM592.6,282.8h15.0v15.0h-15.0zM592.6,286.7h15.0v15.0h-15.0zM594.2,285.6h15.0v15.0h-15.0zM594.0,284.6h15.0v15.0h-15.0zM597.0,290.0h15.0v15.0h-15.0zM597.2,289.8h15.0v15.0h-15.0zM599.2,289.3h15.0v15.0h-15.0zM598.0,289.3h15.0v15.0h-15.0zM600.3,296.2h15.0v15.0h-15.0zM600.1,293.0h15.0v15.0h-15.0zM601.8,292.7h15.0v15.0h-15.0zM602.6,296.2h15.0v15.0h-15.0zM605.5,319.5h15.0v15.0h-15.0zM607.0,327.5h15.0v15.0h-15.0zM608.5,337.1h15.0v15.0h-15.0zM610.5,347.5h15.0v15.0h-15.0zM613.3,358.5h15.0v15.0h-15.0zM615.0,367.5h15.0v15.0h-15.0zM617.1,375.5h15.0v15.0h-15.0zM620.2,384.5h15.0v15.0h-15.0zM621.5,391.5h15.0v15.0h-15.0zM623.3,398.5h15.0v15.0h-15.0zM628.6,441.8h15.0v15.0h-15.0zM632.8,448.5h15.0v15.0h-15.0zM637.2,454.0h15.0v15.0h-15.0zM640.9,459.5h15.0v15.0h-15.0zM645.2,468.7h15.0v15.0h-15.0zM647.9,475.2h15.0v15.0h-15.0zM648.8,497.3h15.0v15.0h-15.0zM652.4,505.0h15.0v15.0h-15.0zM656.5,510.4h15.0v15.0h-15.0zM659.3,519.8h15.0v15.0h-15.0zM665.5,548.0h15.0v15.0h-15.0zM669.0,555.4h15.0v15.0h-15.0zM672.1,563.9h15.0v15.0h-15.0zM674.7,569.2h15.0v15.0h-15.0zM679.0,575.8h15.0v15.0h-15.0zM681.4,584.2h15.0v15.0h-15.0zM689.5,594.5h15.0v15.0h-15.0zM704.5,589.5h15.0v15.0h-15.0zM712.8,604.5h15.0v15.0h-15.0zM688.2,611.3h15.0v15.0h-15.0zM696.5,614.0h15.0v15.0h-15.0zM710.1,615.5h15.0v15.0h-15.0zM714.5,610.5h15.0v15.0h-15.0zM717.1,632.5h15.0v15.0h-15.0zM720.0,645.1h15.0v15.0h-15.0zM723.1,658.0h15.0v15.0h-15.0zM727.2,666.7h15.0v15.0h-15.0zM730.2,675.2h15.0v15.0h-15.0zM732.6,680.9h15.0v15.0h-15.0zM735.6,685.7h15.0v15.0h-15.0zM739.3,691.2h15.0v15.0h-15.0zM742.3,700.0h15.0v15.0h-15.0zM703.0,659.1h15.0v15.0h-15.0zM752.8,545.5h15.0v15.0h-15.0zM752.8,550.2h15.0v15.0h-15.0zM758.5,565.5h15.0v15.0h-15.0zM747.9,583.3h15.0v15.0h-15.0zM762.5,574.5h15.0v15.0h-15.0zM768.4,582.8h15.0v15.0h-15.0zM771.6,582.8h15.0v15.0h-15.0zM773.1,584.5h15.0v15.0h-15.0zM775.4,587.2h15.0v15.0h-15.0zM778.0,594.1h15.0v15.0h-15.0zM781.8,598.4h15.0v15.0h-15.0zM783.3,598.9h15.0v15.0h-15.0zM786.3,600.8h15.0v15.0h-15.0zM787.8,607.4h15.0v15.0h-15.0zM791.2,604.0h15.0v15.0h-15.0zM792.8,606.3h15.0v15.0h-15.0zM796.7,608.9h15.0v15.0h-15.0zM798.7,618.3h15.0v15.0h-15.0zM800.3,615.7h15.0v15.0h-15.0zM803.5,621.0h15.0v15.0h-15.0zM809.5,636.3h15.0v15.0h-15.0zM812.5,642.5h15.0v15.0h-15.0zM815.9,651.5h15.0v15.0h-15.0zM818.1,656.5h15.0v15.0h-15.0zM820.6,660.8h15.0v15.0h-15.0zM823.5,666.8h15.0v15.0h-15.0zM826.0,674.9h15.0v15.0h-15.0zM828.1,679.3h15.0v15.0h-15.0zM830.7,683.8h15.0v15.0h-15.0zM834.2,685.2h15.0v15.0h-15.0zM836.9,690.9h15.0v15.0h-15.0zM838.1,693.4h15.0v15.0h-15.0zM841.6,699.2h15.0v15.0h-15.0zM843.3,700.2h15.0v15.0h-15.0zM846.7,706.5h15.0v15.0h-15.0zM848.2,706.5h15.0v15.0h-15.0zM851.7,710.8h15.0v15.0h-15.0zM853.6,716.5h15.0v15.0h-15.0zM856.7,719.1h15.0v15.0h-15.0zM859.4,722.7h15.0v15.0h-15.0zM861.8,724.5h15.0v15.0h-15.0zM863.9,724.4h15.0v15.0h-15.0zM867.0,730.0h15.0v15.0h-15.0zM868.6,731.1h15.0v15.0h-15.0zM870.5,732.5h15.0v15.0h-15.0zM874.0,731.8h15.0v15.0h-15.0zM876.2,734.2h15.0v15.0h-15.0zM878.2,732.8h15.0v15.0h-15.0zM880.6,732.7h15.0v15.0h-15.0zM884.4,733.7h15.0v15.0h-15.0zM885.5,734.9h15.0v15.0h-15.0zM890.5,746.5h15.0v15.0h-15.0zM890.5,769.5h15.0v15.0h-15.0zM898.1,792.1h15.0v15.0h-15.0zM898.1,771.9h15.0v15.0h-15.0zM900.1,774.7h15.0v15.0h-15.0zM902.1,772.6h15.0v15.0h-15.0zM905.1,775.2h15.0v15.0h-15.0zM906.8,769.9h15.0v15.0h-15.0zM909.7,774.5h15.0v15.0h-15.0zM913.0,770.3h15.0v15.0h-15.0zM915.7,775.4h15.0v15.0h-15.0zM918.2,781.3h15.0v15.0h-15.0zM919.3,784.8h15.0v15.0h-15.0zM922.5,779.7h15.0v15.0h-15.0zM924.9,781.2h15.0v15.0h-15.0zM927.9,789.0h15.0v15.0h-15.0zM929.4,787.2h15.0v15.0h-15.0zM932.5,795.8h15.0v15.0h-15.0zM934.6,789.8h15.0v15.0h-15.0zM937.3,791.3h15.0v15.0h-15.0zM939.7,803.0h15.0v15.0h-15.0zM942.0,798.1h15.0v15.0h-15.0zM961.5,813.3h15.0v15.0h-15.0zM922.3,796.7h15.0v15.0h-15.0zM924.9,798.0h15.0v15.0h-15.0zM927.5,801.1h15.0v15.0h-15.0zM929.3,803.9h15.0v15.0h-15.0zM931.7,801.7h15.0v15.0h-15.0zM934.6,817.0h15.0v15.0h-15.0zM937.5,813.2h15.0v15.0h-15.0zM940.7,821.5h15.0v15.0h-15.0zM942.6,812.9h15.0v15.0h-15.0zM945.0,817.5h15.0v15.0h-15.0zM948.2,814.0h15.0v15.0h-15.0zM949.8,828.5h15.0v15.0h-15.0zM952.7,828.6h15.0v15.0h-15.0zM955.4,825.0h15.0v15.0h-15.0zM958.0,843.0h15.0v15.0h-15.0zM959.3,834.8h15.0v15.0h-15.0zM962.3,839.8h15.0v15.0h-15.0zM965.1,840.7h15.0v15.0h-15.0zM967.7,859.6h15.0v15.0h-15.0zM970.7,861.1h15.0v15.0h-15.0zM972.0,861.0h15.0v15.0h-15.0zM975.4,860.2h15.0v15.0h-15.0zM977.8,855.5h15.0v15.0h-15.0zM980.4,857.1h15.0v15.0h-15.0zM982.6,860.1h15.0v15.0h-15.0zM985.1,858.1h15.0v15.0h-15.0zM987.2,875.6h15.0v15.0h-15.0zM989.6,875.9h15.0v15.0h-15.0zM993.0,874.6h15.0v15.0h-15.0zM995.2,867.3h15.0v15.0h-15.0zM997.5,884.9h15.0v15.0h-15.0zM1000.8,877.3h15.0v15.0h-15.0zM1002.4,888.1h15.0v15.0h-15.0zM1005.1,885.4h15.0v15.0h-15.0zM1006.8,874.0h15.0v15.0h-15.0zM1010.5,881.8h15.0v15.0h-15.0zM1013.0,880.0h15.0v15.0h-15.0zM1015.7,871.2h15.0v15.0h-15.0zM1017.1,886.8h15.0v15.0h-15.0zM1020.0,888.4h15.0v15.0h-15.0zM1022.5,890.0h15.0v15.0h-15.0zM1025.5,881.5h15.0v15.0h-15.0zM1026.7,880.6h15.0v15.0h-15.0zM1029.8,899.6h15.0v15.0h-15.0zM1033.2,894.1h15.0v15.0h-15.0zM1034.5,900.7h15.0v15.0h-15.0zM1036.9,885.5h15.0v15.0h-15.0zM1040.5,891.9h15.0v15.0h-15.0zM1042.3,892.3h15.0v15.0h-15.0zM1044.2,891.6h15.0v15.0h-15.0zM1046.8,891.9h15.0v15.0h-15.0zM1049.3,896.8h15.0v15.0h-15.0zM1052.5,903.9h15.0v15.0h-15.0zM1055.5,910.6h15.0v15.0h-15.0zM1057.5,908.8h15.0v15.0h-15.0zM1059.2,904.6h15.0v15.0h-15.0zM1063.0,916.5h15.0v15.0h-15.0zM1064.7,917.3h15.0v15.0h-15.0zM1068.1,913.5h15.0v15.0h-15.0zM1075.5,927.5h15.0v15.0h-15.0zM1082.5,932.5h15.0v15.0h-15.0zM1090.5,933.5h15.0v15.0h-15.0zM1097.5,931.5h15.0v15.0h-15.0zM1104.5,935.5h15.0v15.0h-15.0zM1084.5,939.5h15.0v15.0h-15.0zM1092.5,942.5h15.0v15.0h-15.0zM1100.5,942.5h15.0v15.0h-15.0zM1078.5,936.5h15.0v15.0h-15.0zM975.5,883.5h15.0v15.0h-15.0zM1009.5,889.0h15.0v15.0h-15.0zM1021.5,906.0h15.0v15.0h-15.0zM1107.5,954.5h15.0v15.0h-15.0zM1111.5,962.5h15.0v15.0h-15.0zM1118.5,968.5h15.0v15.0h-15.0zM1124.5,964.5h15.0v15.0h-15.0zM1116.5,976.5h15.0v15.0h-15.0zM1125.5,974.5h15.0v15.0h-15.0zM1120.5,970.5h15.0v15.0h-15.0z" fill="none" stroke="#0f0" stroke-width="4"/>
<path d="M934.8,379.8L939.9,393.3L954.3,394.0L943.0,403.0L946.8,416.9L934.8,408.9L922.8,416.9L926.6,403.0L915.3,394.0L929.7,393.3Z" fill="#fff" stroke="#000" stroke-width="4" stroke-linejoin="miter"/>
<path d="M755.3,610.5L761.4,626.7L778.6,627.4L765.1,638.2L769.7,654.8L755.3,645.3L740.9,654.8L745.5,638.2L732.0,627.4L749.2,626.7Z" fill="#000"/>
<rect x="230.5" y="11.0" width="999.5" height="997.5" fill="none" stroke="#000" stroke-width="4"/><path d="M230.5,954.7h17.5M1230.0,954.7h-17.5M230.5,843.7h9M1230.0,843.7h-9M230.5,732.7h17.5M1230.0,732.7h-17.5M230.5,621.7h9M1230.0,621.7h-9M230.5,510.7h17.5M1230.0,510.7h-17.5M230.5,399.7h9M1230.0,399.7h-9M230.5,288.7h17.5M1230.0,288.7h-17.5M230.5,177.7h9M1230.0,177.7h-9M230.5,66.7h17.5M1230.0,66.7h-17.5M230.5,1008.5v-17.5M230.5,11.0v17.5M355.5,1008.5v-9M355.5,11.0v9M480.4,1008.5v-17.5M480.4,11.0v17.5M605.4,1008.5v-9M605.4,11.0v9M730.4,1008.5v-17.5M730.4,11.0v17.5M855.3,1008.5v-9M855.3,11.0v9M980.3,1008.5v-17.5M980.3,11.0v17.5M1105.3,1008.5v-9M1105.3,11.0v9M1230.2,1008.5v-17.5M1230.2,11.0v17.5" stroke="#000" stroke-width="4" fill="none"/>
<text transform="translate(112.69,87.60) scale(1.0689,0.9975)" font-size="57">220</text><text transform="translate(112.47,308.50) scale(1.0778,1.0100)" font-size="57">200</text><text transform="translate(115.19,531.20) scale(1.0517,1.0125)" font-size="57">180</text><text transform="translate(115.19,753.50) scale(1.0517,1.0125)" font-size="57">160</text><text transform="translate(115.19,975.60) scale(1.0528,1.0150)" font-size="57">140</text><text transform="translate(213.64,1079.80) scale(1.1296,1.0125)" font-size="57">0</text><text transform="translate(432.15,1080.00) scale(1.0382,1.0225)" font-size="57">100</text><text transform="translate(678.04,1079.80) scale(1.0878,1.0125)" font-size="57">200</text><text transform="translate(929.58,1080.00) scale(1.0604,1.0350)" font-size="57">300</text><text transform="translate(1179.94,1080.00) scale(1.0609,1.0200)" font-size="57">400</text><text transform="translate(494.03,1153.71) scale(1.0225,0.9922)" font-size="68">Cycle Number</text><text transform="translate(62.07,912.12) scale(0.9953,1.0195) rotate(-90)" font-size="68">Discharge Capacity (mAh)</text><text transform="translate(262.99,98.00) scale(1.0144,1.0485)" font-size="48">4.4 V</text><text transform="translate(523.59,98.60) scale(1.0090,1.0667)" font-size="48">4.5 V</text>
<path d="M287.7,759.8 L298.7,770.8 L287.7,781.8 L276.7,770.8Z" fill="none" stroke="#000" stroke-width="7.5"/><path d="M275.5,830.7H300.9M288.2,818V843.4" stroke="#00f" stroke-width="6.5" stroke-linecap="round" fill="none"/><circle cx="288.2" cy="889.7" r="14" fill="none" stroke="#f00" stroke-width="4"/><rect x="274.2" y="935.7" width="28" height="28" fill="none" stroke="#0f0" stroke-width="4"/><text transform="translate(319.86,787.30) scale(1.0194,1.0437)" font-size="46">2% VC</text><text transform="translate(319.87,847.40) scale(1.0132,1.0437)" font-size="46">2% PES</text><text transform="translate(319.89,905.30) scale(1.0058,0.9735)" font-size="46">2% PES+1%MMDS+1%TTSPi</text><text transform="translate(319.82,964.60) scale(1.0388,0.9969)" font-size="46">2% TAP</text>
</svg></body></html>
